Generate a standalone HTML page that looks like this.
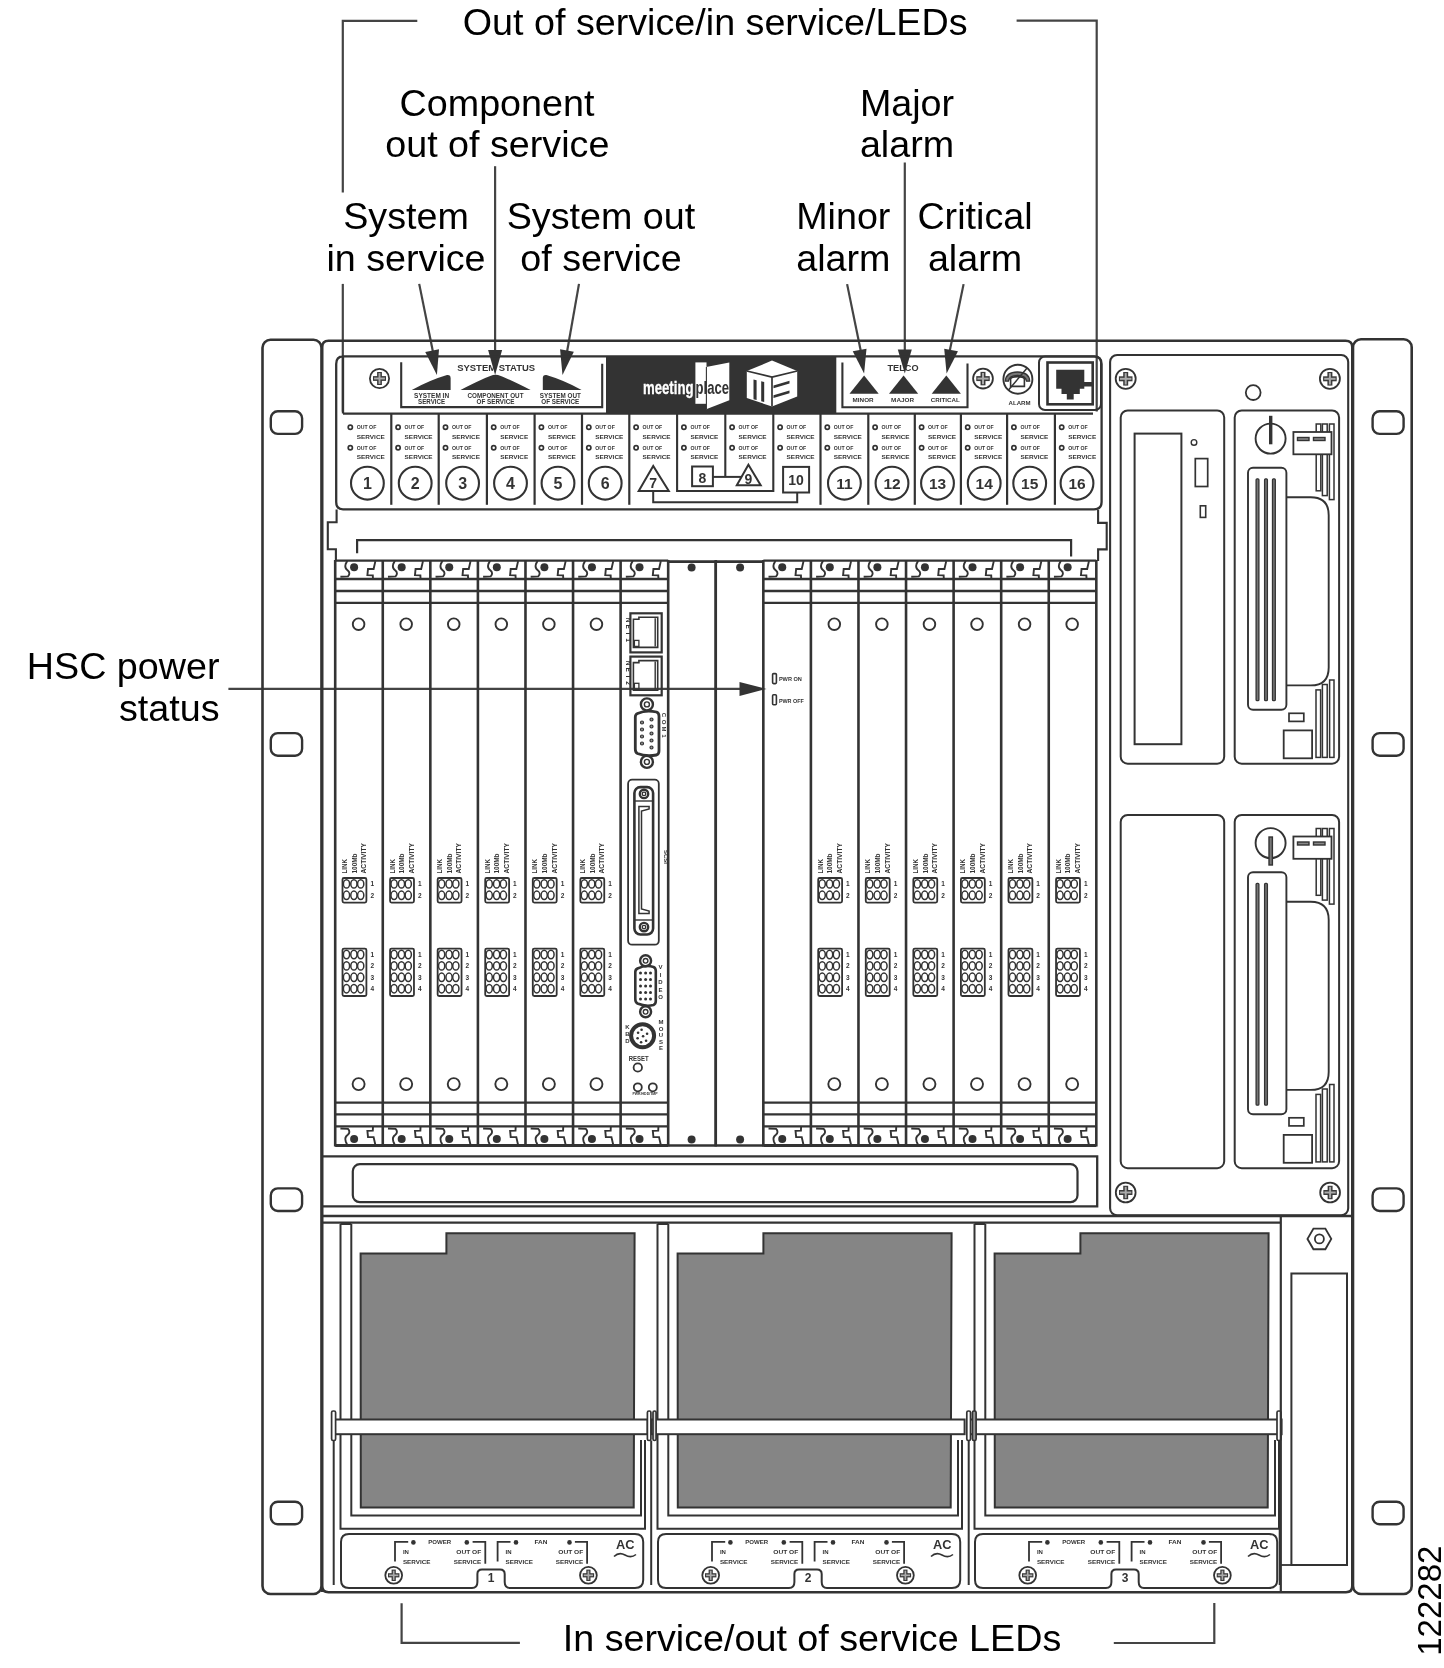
<!DOCTYPE html>
<html><head><meta charset="utf-8"><style>
html,body{margin:0;padding:0;background:#fff;}
svg{display:block;will-change:transform;}
text{font-family:"Liberation Sans",sans-serif;}
</style></head><body>
<svg width="1444" height="1668" viewBox="0 0 1444 1668">
<rect x="0" y="0" width="1444" height="1668" fill="#fff"/>
<text x="715.2" y="34.8" font-size="37.7" text-anchor="middle" font-weight="normal" fill="#000" >Out of service/in service/LEDs</text>
<text x="497" y="116.3" font-size="37.7" text-anchor="middle" font-weight="normal" fill="#000" >Component</text>
<text x="497.3" y="157" font-size="37.7" text-anchor="middle" font-weight="normal" fill="#000" >out of service</text>
<text x="907" y="116.1" font-size="37.7" text-anchor="middle" font-weight="normal" fill="#000" >Major</text>
<text x="907" y="156.6" font-size="37.7" text-anchor="middle" font-weight="normal" fill="#000" >alarm</text>
<text x="406" y="229" font-size="37.7" text-anchor="middle" font-weight="normal" fill="#000" >System</text>
<text x="406" y="270.8" font-size="37.7" text-anchor="middle" font-weight="normal" fill="#000" >in service</text>
<text x="601" y="229" font-size="37.7" text-anchor="middle" font-weight="normal" fill="#000" >System out</text>
<text x="601" y="270.8" font-size="37.7" text-anchor="middle" font-weight="normal" fill="#000" >of service</text>
<text x="843.3" y="229" font-size="37.7" text-anchor="middle" font-weight="normal" fill="#000" >Minor</text>
<text x="843.3" y="270.8" font-size="37.7" text-anchor="middle" font-weight="normal" fill="#000" >alarm</text>
<text x="975" y="229" font-size="37.7" text-anchor="middle" font-weight="normal" fill="#000" >Critical</text>
<text x="975" y="270.8" font-size="37.7" text-anchor="middle" font-weight="normal" fill="#000" >alarm</text>
<text x="219.5" y="679.4" font-size="37.7" text-anchor="end" font-weight="normal" fill="#000" >HSC power</text>
<text x="219.5" y="720.6" font-size="37.7" text-anchor="end" font-weight="normal" fill="#000" >status</text>
<text x="812" y="1651" font-size="37.7" text-anchor="middle" font-weight="normal" fill="#000" >In service/out of service LEDs</text>
<text x="1441" y="1600.7" font-size="33" text-anchor="middle" fill="#000" transform="rotate(-90 1441 1600.7)">122282</text>
<polyline points="417.3,20.8 342.8,20.8 342.8,192.5" fill="none" stroke="#444" stroke-width="2.2" stroke-linejoin="miter"/>
<line x1="342.8" y1="283.9" x2="342.8" y2="411.7" stroke="#444" stroke-width="2.2" stroke-linecap="butt"/>
<polyline points="1016.6,20.7 1096.7,20.7 1096.7,411.6" fill="none" stroke="#444" stroke-width="2.2" stroke-linejoin="miter"/>
<polyline points="401.6,1603.3 401.6,1642.8 519.9,1642.8" fill="none" stroke="#444" stroke-width="2.2" stroke-linejoin="miter"/>
<polyline points="1113.8,1643 1214.3,1643 1214.3,1603" fill="none" stroke="#444" stroke-width="2.2" stroke-linejoin="miter"/>
<line x1="419.2" y1="283.9" x2="433" y2="352" stroke="#444" stroke-width="2.2" stroke-linecap="butt"/>
<polygon points="436.9,375.1 425.27,351.89 439.01,349.22" fill="#333"/>
<line x1="495.1" y1="166.2" x2="495.1" y2="352" stroke="#444" stroke-width="2.2" stroke-linecap="butt"/>
<polygon points="495.1,375.1 488.1,350.1 502.1,350.1" fill="#333"/>
<line x1="579" y1="283.9" x2="567" y2="352" stroke="#444" stroke-width="2.2" stroke-linecap="butt"/>
<polygon points="562.5,375.1 560.06,349.25 573.84,351.75" fill="#333"/>
<line x1="847.1" y1="284.1" x2="861" y2="352" stroke="#444" stroke-width="2.2" stroke-linecap="butt"/>
<polygon points="864.1,373.6 852.74,351.33 866.5,348.72" fill="#333"/>
<line x1="904.8" y1="162.5" x2="904.8" y2="352" stroke="#444" stroke-width="2.2" stroke-linecap="butt"/>
<polygon points="904.8,373.6 897.8,349.6 911.8,349.6" fill="#333"/>
<line x1="963.6" y1="284.1" x2="949.5" y2="352" stroke="#444" stroke-width="2.2" stroke-linecap="butt"/>
<polygon points="946.6,373.6 944.2,348.72 957.96,351.33" fill="#333"/>
<line x1="228.4" y1="688.9" x2="745" y2="688.9" stroke="#444" stroke-width="2.2" stroke-linecap="butt"/>
<polygon points="766.5,688.9 739.5,681.9 739.5,695.9" fill="#333"/>
<rect x="262.5" y="339.8" width="59" height="1254.2" rx="8" fill="none" stroke="#333" stroke-width="2.6"/>
<rect x="1353" y="339.3" width="58.7" height="1254.7" rx="8" fill="none" stroke="#333" stroke-width="2.6"/>
<rect x="270.8" y="411.3" width="31.3" height="22.6" rx="7" fill="none" stroke="#333" stroke-width="2.4"/>
<rect x="1372.6" y="411.3" width="31" height="22.6" rx="7" fill="none" stroke="#333" stroke-width="2.4"/>
<rect x="270.8" y="733.1" width="31.3" height="22.6" rx="7" fill="none" stroke="#333" stroke-width="2.4"/>
<rect x="1372.6" y="733.1" width="31" height="22.6" rx="7" fill="none" stroke="#333" stroke-width="2.4"/>
<rect x="270.8" y="1188.4" width="31.3" height="22.6" rx="7" fill="none" stroke="#333" stroke-width="2.4"/>
<rect x="1372.6" y="1188.4" width="31" height="22.6" rx="7" fill="none" stroke="#333" stroke-width="2.4"/>
<rect x="270.8" y="1501.7" width="31.3" height="22.6" rx="7" fill="none" stroke="#333" stroke-width="2.4"/>
<rect x="1372.6" y="1501.7" width="31" height="22.6" rx="7" fill="none" stroke="#333" stroke-width="2.4"/>
<path d="M322.2,1592 L322.2,347 Q322.2,340.7 328.5,340.7 L1345.5,340.7 Q1352.3,340.7 1352.3,347 L1352.3,1586 Q1352.3,1592.2 1346,1592.2 L328.5,1592.2 Q322.2,1592.2 322.2,1586" fill="none" stroke="#333" stroke-width="2.6" stroke-linejoin="miter" stroke-linecap="butt"/>
<path d="M343,413.5 L343,356.3 L1094,356.3 Q1101.6,356.3 1101.6,364 L1101.6,502 Q1101.6,509.3 1094,509.3 L343,509.3 Q336.2,509.3 336.2,502 L336.2,364 Q336.2,356.3 343,356.3" fill="none" stroke="#333" stroke-width="2.3" stroke-linejoin="miter" stroke-linecap="butt"/>
<line x1="343" y1="413.6" x2="1093" y2="413.6" stroke="#333" stroke-width="2.3" stroke-linecap="butt"/>
<rect x="606" y="356.3" width="230.3" height="57.3" rx="0" fill="#333"/>
<rect x="1110.1" y="355" width="238.1" height="860.3" rx="7" fill="none" stroke="#333" stroke-width="2.1"/>
<polyline points="357.1,553.3 357.1,540.2 1071.1,540.2 1071.1,556.6" fill="none" stroke="#333" stroke-width="2.2" stroke-linejoin="miter"/>
<polyline points="336.6,509.5 336.6,522.2 327.8,522.2 327.8,549.2 335.9,549.2 335.9,561" fill="none" stroke="#333" stroke-width="2.1" stroke-linejoin="miter"/>
<polyline points="1098.1,509.8 1098.1,522.9 1106.7,522.9 1106.7,549.4 1098.1,549.4 1098.1,561.1" fill="none" stroke="#333" stroke-width="2.1" stroke-linejoin="miter"/>
<polyline points="322.2,1156.4 1097.2,1156.4 1097.2,1206.4 322.2,1206.4" fill="none" stroke="#333" stroke-width="2.3" stroke-linejoin="miter"/>
<rect x="352.8" y="1164.2" width="724.7" height="38" rx="7" fill="none" stroke="#333" stroke-width="2.2"/>
<line x1="322.2" y1="1216" x2="1352.3" y2="1216" stroke="#333" stroke-width="2.3" stroke-linecap="butt"/>
<line x1="322.2" y1="1222.6" x2="1280.8" y2="1222.6" stroke="#333" stroke-width="2.3" stroke-linecap="butt"/>
<circle cx="379.5" cy="378.5" r="9.6" fill="none" stroke="#333" stroke-width="1.8"/>
<line x1="372.97" y1="378.5" x2="386.03" y2="378.5" stroke="#3a3a3a" stroke-width="4.8" stroke-linecap="butt"/>
<line x1="379.5" y1="371.97" x2="379.5" y2="385.03" stroke="#3a3a3a" stroke-width="4.8" stroke-linecap="butt"/>
<line x1="374.07" y1="378.5" x2="384.93" y2="378.5" stroke="#aaa" stroke-width="1.92" stroke-linecap="butt"/>
<line x1="379.5" y1="373.07" x2="379.5" y2="383.93" stroke="#aaa" stroke-width="1.92" stroke-linecap="butt"/>
<polyline points="401.2,362.3 401.2,407.1 602.2,407.1 602.2,363.7" fill="none" stroke="#333" stroke-width="2.1" stroke-linejoin="miter"/>
<text x="496.2" y="370.8" font-size="9.5" text-anchor="middle" font-weight="bold" fill="#333" textLength="78" lengthAdjust="spacingAndGlyphs">SYSTEM STATUS</text>
<path d="M411.8,389.9 L450.6,389.9 L450.6,378 Q450.6,374.6 447,375 Q430,380 411.8,389.9 Z" fill="#333" stroke="#333" stroke-width="0" stroke-linejoin="miter" stroke-linecap="butt"/>
<path d="M460.5,389.9 L530.6,389.9 Q505,377 498,375 Q495.6,374.3 493,375 Q486,377 460.5,389.9 Z" fill="#333" stroke="#333" stroke-width="0" stroke-linejoin="miter" stroke-linecap="butt"/>
<path d="M581.6,389.9 L542.8,389.9 L542.8,378 Q542.8,374.6 546.4,375 Q563.4,380 581.6,389.9 Z" fill="#333" stroke="#333" stroke-width="0" stroke-linejoin="miter" stroke-linecap="butt"/>
<text x="431.6" y="397.8" font-size="6.4" text-anchor="middle" font-weight="bold" fill="#333" textLength="35" lengthAdjust="spacingAndGlyphs">SYSTEM IN</text>
<text x="431.6" y="403.8" font-size="6.4" text-anchor="middle" font-weight="bold" fill="#333" textLength="27" lengthAdjust="spacingAndGlyphs">SERVICE</text>
<text x="495.5" y="397.8" font-size="6.4" text-anchor="middle" font-weight="bold" fill="#333" textLength="56" lengthAdjust="spacingAndGlyphs">COMPONENT OUT</text>
<text x="495.5" y="403.8" font-size="6.4" text-anchor="middle" font-weight="bold" fill="#333" textLength="38" lengthAdjust="spacingAndGlyphs">OF SERVICE</text>
<text x="560.3" y="397.8" font-size="6.4" text-anchor="middle" font-weight="bold" fill="#333" textLength="41" lengthAdjust="spacingAndGlyphs">SYSTEM OUT</text>
<text x="560.3" y="403.8" font-size="6.4" text-anchor="middle" font-weight="bold" fill="#333" textLength="38" lengthAdjust="spacingAndGlyphs">OF SERVICE</text>
<polyline points="842.4,362.4 842.4,407.2 967.5,407.2 967.5,363.6" fill="none" stroke="#333" stroke-width="2.1" stroke-linejoin="miter"/>
<text x="903" y="370.8" font-size="9.5" text-anchor="middle" font-weight="bold" fill="#333" textLength="31" lengthAdjust="spacingAndGlyphs">TELCO</text>
<polygon points="864.1,375.4 849.5,393.7 878.7,393.7" fill="#333"/>
<text x="863.1" y="402" font-size="5.8" text-anchor="middle" font-weight="bold" fill="#333" textLength="21" lengthAdjust="spacingAndGlyphs">MINOR</text>
<polygon points="903.6,375.4 889,393.7 918.2,393.7" fill="#333"/>
<text x="902.6" y="402" font-size="5.8" text-anchor="middle" font-weight="bold" fill="#333" textLength="23" lengthAdjust="spacingAndGlyphs">MAJOR</text>
<polygon points="946.3,375.4 931.7,393.7 960.9,393.7" fill="#333"/>
<text x="945.3" y="402" font-size="5.8" text-anchor="middle" font-weight="bold" fill="#333" textLength="29" lengthAdjust="spacingAndGlyphs">CRITICAL</text>
<circle cx="983" cy="378.6" r="9.9" fill="none" stroke="#333" stroke-width="1.8"/>
<line x1="976.27" y1="378.6" x2="989.73" y2="378.6" stroke="#3a3a3a" stroke-width="4.95" stroke-linecap="butt"/>
<line x1="983" y1="371.87" x2="983" y2="385.33" stroke="#3a3a3a" stroke-width="4.95" stroke-linecap="butt"/>
<line x1="977.37" y1="378.6" x2="988.63" y2="378.6" stroke="#aaa" stroke-width="1.9800000000000002" stroke-linecap="butt"/>
<line x1="983" y1="372.97" x2="983" y2="384.23" stroke="#aaa" stroke-width="1.9800000000000002" stroke-linecap="butt"/>
<circle cx="1017.9" cy="379.2" r="14.5" fill="none" stroke="#333" stroke-width="1.9"/>
<path d="M1010.6,386.4 L1010.6,379 Q1011,376.8 1017.5,376.6 Q1024,376.8 1024.4,379 L1024.4,386.4 Z" fill="none" stroke="#333" stroke-width="1.6" stroke-linejoin="miter" stroke-linecap="butt"/>
<path d="M1005.3,381.2 Q1005.8,372.2 1017.5,372 Q1029.2,372.2 1029.7,381.2 L1026.6,381.2 Q1025.6,375.6 1017.5,375.5 Q1009.4,375.6 1008.4,381.2 Z" fill="#777" stroke="#333" stroke-width="1.3" stroke-linejoin="miter" stroke-linecap="butt"/>
<line x1="1008.5" y1="390" x2="1027.1" y2="368.1" stroke="#333" stroke-width="1.5" stroke-linecap="butt"/>
<text x="1019.6" y="404.5" font-size="5.8" text-anchor="middle" font-weight="bold" fill="#333" textLength="22" lengthAdjust="spacingAndGlyphs">ALARM</text>
<rect x="1039" y="356.5" width="62" height="53.5" rx="6" fill="none" stroke="#333" stroke-width="2.0"/>
<rect x="1047.5" y="362.5" width="45.2" height="41.8" rx="0" fill="none" stroke="#333" stroke-width="2.6"/>
<polygon points="1056.2,369.7 1084.3,369.7 1084.3,382 1092,382 1092,386.5 1084.3,386.5 1084.3,388.8 1079.8,388.8 1079.8,394 1073.7,394 1073.7,399.4 1066.8,399.4 1066.8,394 1061.5,394 1061.5,388.8 1056.2,388.8" fill="#333"/>
<line x1="391.3" y1="413.6" x2="391.3" y2="504.8" stroke="#333" stroke-width="2.2" stroke-linecap="butt"/>
<line x1="438.7" y1="413.6" x2="438.7" y2="504.8" stroke="#333" stroke-width="2.2" stroke-linecap="butt"/>
<line x1="486.9" y1="413.6" x2="486.9" y2="504.8" stroke="#333" stroke-width="2.2" stroke-linecap="butt"/>
<line x1="534.6" y1="413.6" x2="534.6" y2="504.8" stroke="#333" stroke-width="2.2" stroke-linecap="butt"/>
<line x1="582" y1="413.6" x2="582" y2="504.8" stroke="#333" stroke-width="2.2" stroke-linecap="butt"/>
<line x1="629.3" y1="413.6" x2="629.3" y2="504.8" stroke="#333" stroke-width="2.2" stroke-linecap="butt"/>
<line x1="820.5" y1="413.6" x2="820.5" y2="504.8" stroke="#333" stroke-width="2.2" stroke-linecap="butt"/>
<line x1="868.3" y1="413.6" x2="868.3" y2="504.8" stroke="#333" stroke-width="2.2" stroke-linecap="butt"/>
<line x1="914.8" y1="413.6" x2="914.8" y2="504.8" stroke="#333" stroke-width="2.2" stroke-linecap="butt"/>
<line x1="960.9" y1="413.6" x2="960.9" y2="504.8" stroke="#333" stroke-width="2.2" stroke-linecap="butt"/>
<line x1="1007.1" y1="413.6" x2="1007.1" y2="504.8" stroke="#333" stroke-width="2.2" stroke-linecap="butt"/>
<line x1="1054.9" y1="413.6" x2="1054.9" y2="504.8" stroke="#333" stroke-width="2.2" stroke-linecap="butt"/>
<polyline points="677.1,413.6 677.1,491 773.3,491 773.3,413.6" fill="none" stroke="#333" stroke-width="2.1" stroke-linejoin="miter"/>
<line x1="725.3" y1="413.6" x2="725.3" y2="476.9" stroke="#333" stroke-width="2.1" stroke-linecap="butt"/>
<circle cx="350.3" cy="427.2" r="2.1" fill="none" stroke="#333" stroke-width="1.7"/>
<text x="356.8" y="429.4" font-size="6" text-anchor="start" font-weight="bold" fill="#333" textLength="19.5" lengthAdjust="spacingAndGlyphs">OUT OF</text>
<text x="356.8" y="438.5" font-size="6" text-anchor="start" font-weight="bold" fill="#333" textLength="28" lengthAdjust="spacingAndGlyphs">SERVICE</text>
<circle cx="350.3" cy="447.8" r="2.1" fill="none" stroke="#333" stroke-width="1.7"/>
<text x="356.8" y="450" font-size="6" text-anchor="start" font-weight="bold" fill="#333" textLength="19.5" lengthAdjust="spacingAndGlyphs">OUT OF</text>
<text x="356.8" y="459.1" font-size="6" text-anchor="start" font-weight="bold" fill="#333" textLength="28" lengthAdjust="spacingAndGlyphs">SERVICE</text>
<circle cx="398.1" cy="427.2" r="2.1" fill="none" stroke="#333" stroke-width="1.7"/>
<text x="404.6" y="429.4" font-size="6" text-anchor="start" font-weight="bold" fill="#333" textLength="19.5" lengthAdjust="spacingAndGlyphs">OUT OF</text>
<text x="404.6" y="438.5" font-size="6" text-anchor="start" font-weight="bold" fill="#333" textLength="28" lengthAdjust="spacingAndGlyphs">SERVICE</text>
<circle cx="398.1" cy="447.8" r="2.1" fill="none" stroke="#333" stroke-width="1.7"/>
<text x="404.6" y="450" font-size="6" text-anchor="start" font-weight="bold" fill="#333" textLength="19.5" lengthAdjust="spacingAndGlyphs">OUT OF</text>
<text x="404.6" y="459.1" font-size="6" text-anchor="start" font-weight="bold" fill="#333" textLength="28" lengthAdjust="spacingAndGlyphs">SERVICE</text>
<circle cx="445.5" cy="427.2" r="2.1" fill="none" stroke="#333" stroke-width="1.7"/>
<text x="452" y="429.4" font-size="6" text-anchor="start" font-weight="bold" fill="#333" textLength="19.5" lengthAdjust="spacingAndGlyphs">OUT OF</text>
<text x="452" y="438.5" font-size="6" text-anchor="start" font-weight="bold" fill="#333" textLength="28" lengthAdjust="spacingAndGlyphs">SERVICE</text>
<circle cx="445.5" cy="447.8" r="2.1" fill="none" stroke="#333" stroke-width="1.7"/>
<text x="452" y="450" font-size="6" text-anchor="start" font-weight="bold" fill="#333" textLength="19.5" lengthAdjust="spacingAndGlyphs">OUT OF</text>
<text x="452" y="459.1" font-size="6" text-anchor="start" font-weight="bold" fill="#333" textLength="28" lengthAdjust="spacingAndGlyphs">SERVICE</text>
<circle cx="493.7" cy="427.2" r="2.1" fill="none" stroke="#333" stroke-width="1.7"/>
<text x="500.2" y="429.4" font-size="6" text-anchor="start" font-weight="bold" fill="#333" textLength="19.5" lengthAdjust="spacingAndGlyphs">OUT OF</text>
<text x="500.2" y="438.5" font-size="6" text-anchor="start" font-weight="bold" fill="#333" textLength="28" lengthAdjust="spacingAndGlyphs">SERVICE</text>
<circle cx="493.7" cy="447.8" r="2.1" fill="none" stroke="#333" stroke-width="1.7"/>
<text x="500.2" y="450" font-size="6" text-anchor="start" font-weight="bold" fill="#333" textLength="19.5" lengthAdjust="spacingAndGlyphs">OUT OF</text>
<text x="500.2" y="459.1" font-size="6" text-anchor="start" font-weight="bold" fill="#333" textLength="28" lengthAdjust="spacingAndGlyphs">SERVICE</text>
<circle cx="541.4" cy="427.2" r="2.1" fill="none" stroke="#333" stroke-width="1.7"/>
<text x="547.9" y="429.4" font-size="6" text-anchor="start" font-weight="bold" fill="#333" textLength="19.5" lengthAdjust="spacingAndGlyphs">OUT OF</text>
<text x="547.9" y="438.5" font-size="6" text-anchor="start" font-weight="bold" fill="#333" textLength="28" lengthAdjust="spacingAndGlyphs">SERVICE</text>
<circle cx="541.4" cy="447.8" r="2.1" fill="none" stroke="#333" stroke-width="1.7"/>
<text x="547.9" y="450" font-size="6" text-anchor="start" font-weight="bold" fill="#333" textLength="19.5" lengthAdjust="spacingAndGlyphs">OUT OF</text>
<text x="547.9" y="459.1" font-size="6" text-anchor="start" font-weight="bold" fill="#333" textLength="28" lengthAdjust="spacingAndGlyphs">SERVICE</text>
<circle cx="588.8" cy="427.2" r="2.1" fill="none" stroke="#333" stroke-width="1.7"/>
<text x="595.3" y="429.4" font-size="6" text-anchor="start" font-weight="bold" fill="#333" textLength="19.5" lengthAdjust="spacingAndGlyphs">OUT OF</text>
<text x="595.3" y="438.5" font-size="6" text-anchor="start" font-weight="bold" fill="#333" textLength="28" lengthAdjust="spacingAndGlyphs">SERVICE</text>
<circle cx="588.8" cy="447.8" r="2.1" fill="none" stroke="#333" stroke-width="1.7"/>
<text x="595.3" y="450" font-size="6" text-anchor="start" font-weight="bold" fill="#333" textLength="19.5" lengthAdjust="spacingAndGlyphs">OUT OF</text>
<text x="595.3" y="459.1" font-size="6" text-anchor="start" font-weight="bold" fill="#333" textLength="28" lengthAdjust="spacingAndGlyphs">SERVICE</text>
<circle cx="636.1" cy="427.2" r="2.1" fill="none" stroke="#333" stroke-width="1.7"/>
<text x="642.6" y="429.4" font-size="6" text-anchor="start" font-weight="bold" fill="#333" textLength="19.5" lengthAdjust="spacingAndGlyphs">OUT OF</text>
<text x="642.6" y="438.5" font-size="6" text-anchor="start" font-weight="bold" fill="#333" textLength="28" lengthAdjust="spacingAndGlyphs">SERVICE</text>
<circle cx="636.1" cy="447.8" r="2.1" fill="none" stroke="#333" stroke-width="1.7"/>
<text x="642.6" y="450" font-size="6" text-anchor="start" font-weight="bold" fill="#333" textLength="19.5" lengthAdjust="spacingAndGlyphs">OUT OF</text>
<text x="642.6" y="459.1" font-size="6" text-anchor="start" font-weight="bold" fill="#333" textLength="28" lengthAdjust="spacingAndGlyphs">SERVICE</text>
<circle cx="683.9" cy="427.2" r="2.1" fill="none" stroke="#333" stroke-width="1.7"/>
<text x="690.4" y="429.4" font-size="6" text-anchor="start" font-weight="bold" fill="#333" textLength="19.5" lengthAdjust="spacingAndGlyphs">OUT OF</text>
<text x="690.4" y="438.5" font-size="6" text-anchor="start" font-weight="bold" fill="#333" textLength="28" lengthAdjust="spacingAndGlyphs">SERVICE</text>
<circle cx="683.9" cy="447.8" r="2.1" fill="none" stroke="#333" stroke-width="1.7"/>
<text x="690.4" y="450" font-size="6" text-anchor="start" font-weight="bold" fill="#333" textLength="19.5" lengthAdjust="spacingAndGlyphs">OUT OF</text>
<text x="690.4" y="459.1" font-size="6" text-anchor="start" font-weight="bold" fill="#333" textLength="28" lengthAdjust="spacingAndGlyphs">SERVICE</text>
<circle cx="732.1" cy="427.2" r="2.1" fill="none" stroke="#333" stroke-width="1.7"/>
<text x="738.6" y="429.4" font-size="6" text-anchor="start" font-weight="bold" fill="#333" textLength="19.5" lengthAdjust="spacingAndGlyphs">OUT OF</text>
<text x="738.6" y="438.5" font-size="6" text-anchor="start" font-weight="bold" fill="#333" textLength="28" lengthAdjust="spacingAndGlyphs">SERVICE</text>
<circle cx="732.1" cy="447.8" r="2.1" fill="none" stroke="#333" stroke-width="1.7"/>
<text x="738.6" y="450" font-size="6" text-anchor="start" font-weight="bold" fill="#333" textLength="19.5" lengthAdjust="spacingAndGlyphs">OUT OF</text>
<text x="738.6" y="459.1" font-size="6" text-anchor="start" font-weight="bold" fill="#333" textLength="28" lengthAdjust="spacingAndGlyphs">SERVICE</text>
<circle cx="780.1" cy="427.2" r="2.1" fill="none" stroke="#333" stroke-width="1.7"/>
<text x="786.6" y="429.4" font-size="6" text-anchor="start" font-weight="bold" fill="#333" textLength="19.5" lengthAdjust="spacingAndGlyphs">OUT OF</text>
<text x="786.6" y="438.5" font-size="6" text-anchor="start" font-weight="bold" fill="#333" textLength="28" lengthAdjust="spacingAndGlyphs">SERVICE</text>
<circle cx="780.1" cy="447.8" r="2.1" fill="none" stroke="#333" stroke-width="1.7"/>
<text x="786.6" y="450" font-size="6" text-anchor="start" font-weight="bold" fill="#333" textLength="19.5" lengthAdjust="spacingAndGlyphs">OUT OF</text>
<text x="786.6" y="459.1" font-size="6" text-anchor="start" font-weight="bold" fill="#333" textLength="28" lengthAdjust="spacingAndGlyphs">SERVICE</text>
<circle cx="827.3" cy="427.2" r="2.1" fill="none" stroke="#333" stroke-width="1.7"/>
<text x="833.8" y="429.4" font-size="6" text-anchor="start" font-weight="bold" fill="#333" textLength="19.5" lengthAdjust="spacingAndGlyphs">OUT OF</text>
<text x="833.8" y="438.5" font-size="6" text-anchor="start" font-weight="bold" fill="#333" textLength="28" lengthAdjust="spacingAndGlyphs">SERVICE</text>
<circle cx="827.3" cy="447.8" r="2.1" fill="none" stroke="#333" stroke-width="1.7"/>
<text x="833.8" y="450" font-size="6" text-anchor="start" font-weight="bold" fill="#333" textLength="19.5" lengthAdjust="spacingAndGlyphs">OUT OF</text>
<text x="833.8" y="459.1" font-size="6" text-anchor="start" font-weight="bold" fill="#333" textLength="28" lengthAdjust="spacingAndGlyphs">SERVICE</text>
<circle cx="875.1" cy="427.2" r="2.1" fill="none" stroke="#333" stroke-width="1.7"/>
<text x="881.6" y="429.4" font-size="6" text-anchor="start" font-weight="bold" fill="#333" textLength="19.5" lengthAdjust="spacingAndGlyphs">OUT OF</text>
<text x="881.6" y="438.5" font-size="6" text-anchor="start" font-weight="bold" fill="#333" textLength="28" lengthAdjust="spacingAndGlyphs">SERVICE</text>
<circle cx="875.1" cy="447.8" r="2.1" fill="none" stroke="#333" stroke-width="1.7"/>
<text x="881.6" y="450" font-size="6" text-anchor="start" font-weight="bold" fill="#333" textLength="19.5" lengthAdjust="spacingAndGlyphs">OUT OF</text>
<text x="881.6" y="459.1" font-size="6" text-anchor="start" font-weight="bold" fill="#333" textLength="28" lengthAdjust="spacingAndGlyphs">SERVICE</text>
<circle cx="921.6" cy="427.2" r="2.1" fill="none" stroke="#333" stroke-width="1.7"/>
<text x="928.1" y="429.4" font-size="6" text-anchor="start" font-weight="bold" fill="#333" textLength="19.5" lengthAdjust="spacingAndGlyphs">OUT OF</text>
<text x="928.1" y="438.5" font-size="6" text-anchor="start" font-weight="bold" fill="#333" textLength="28" lengthAdjust="spacingAndGlyphs">SERVICE</text>
<circle cx="921.6" cy="447.8" r="2.1" fill="none" stroke="#333" stroke-width="1.7"/>
<text x="928.1" y="450" font-size="6" text-anchor="start" font-weight="bold" fill="#333" textLength="19.5" lengthAdjust="spacingAndGlyphs">OUT OF</text>
<text x="928.1" y="459.1" font-size="6" text-anchor="start" font-weight="bold" fill="#333" textLength="28" lengthAdjust="spacingAndGlyphs">SERVICE</text>
<circle cx="967.7" cy="427.2" r="2.1" fill="none" stroke="#333" stroke-width="1.7"/>
<text x="974.2" y="429.4" font-size="6" text-anchor="start" font-weight="bold" fill="#333" textLength="19.5" lengthAdjust="spacingAndGlyphs">OUT OF</text>
<text x="974.2" y="438.5" font-size="6" text-anchor="start" font-weight="bold" fill="#333" textLength="28" lengthAdjust="spacingAndGlyphs">SERVICE</text>
<circle cx="967.7" cy="447.8" r="2.1" fill="none" stroke="#333" stroke-width="1.7"/>
<text x="974.2" y="450" font-size="6" text-anchor="start" font-weight="bold" fill="#333" textLength="19.5" lengthAdjust="spacingAndGlyphs">OUT OF</text>
<text x="974.2" y="459.1" font-size="6" text-anchor="start" font-weight="bold" fill="#333" textLength="28" lengthAdjust="spacingAndGlyphs">SERVICE</text>
<circle cx="1013.9" cy="427.2" r="2.1" fill="none" stroke="#333" stroke-width="1.7"/>
<text x="1020.4" y="429.4" font-size="6" text-anchor="start" font-weight="bold" fill="#333" textLength="19.5" lengthAdjust="spacingAndGlyphs">OUT OF</text>
<text x="1020.4" y="438.5" font-size="6" text-anchor="start" font-weight="bold" fill="#333" textLength="28" lengthAdjust="spacingAndGlyphs">SERVICE</text>
<circle cx="1013.9" cy="447.8" r="2.1" fill="none" stroke="#333" stroke-width="1.7"/>
<text x="1020.4" y="450" font-size="6" text-anchor="start" font-weight="bold" fill="#333" textLength="19.5" lengthAdjust="spacingAndGlyphs">OUT OF</text>
<text x="1020.4" y="459.1" font-size="6" text-anchor="start" font-weight="bold" fill="#333" textLength="28" lengthAdjust="spacingAndGlyphs">SERVICE</text>
<circle cx="1061.7" cy="427.2" r="2.1" fill="none" stroke="#333" stroke-width="1.7"/>
<text x="1068.2" y="429.4" font-size="6" text-anchor="start" font-weight="bold" fill="#333" textLength="19.5" lengthAdjust="spacingAndGlyphs">OUT OF</text>
<text x="1068.2" y="438.5" font-size="6" text-anchor="start" font-weight="bold" fill="#333" textLength="28" lengthAdjust="spacingAndGlyphs">SERVICE</text>
<circle cx="1061.7" cy="447.8" r="2.1" fill="none" stroke="#333" stroke-width="1.7"/>
<text x="1068.2" y="450" font-size="6" text-anchor="start" font-weight="bold" fill="#333" textLength="19.5" lengthAdjust="spacingAndGlyphs">OUT OF</text>
<text x="1068.2" y="459.1" font-size="6" text-anchor="start" font-weight="bold" fill="#333" textLength="28" lengthAdjust="spacingAndGlyphs">SERVICE</text>
<circle cx="367.4" cy="483.2" r="16.4" fill="none" stroke="#333" stroke-width="2.1"/>
<text x="367.4" y="489.3" font-size="16" text-anchor="middle" font-weight="bold" fill="#333" >1</text>
<circle cx="415.2" cy="483.2" r="16.4" fill="none" stroke="#333" stroke-width="2.1"/>
<text x="415.2" y="489.3" font-size="16" text-anchor="middle" font-weight="bold" fill="#333" >2</text>
<circle cx="462.6" cy="483.2" r="16.4" fill="none" stroke="#333" stroke-width="2.1"/>
<text x="462.6" y="489.3" font-size="16" text-anchor="middle" font-weight="bold" fill="#333" >3</text>
<circle cx="510.5" cy="483.2" r="16.4" fill="none" stroke="#333" stroke-width="2.1"/>
<text x="510.5" y="489.3" font-size="16" text-anchor="middle" font-weight="bold" fill="#333" >4</text>
<circle cx="558" cy="483.2" r="16.4" fill="none" stroke="#333" stroke-width="2.1"/>
<text x="558" y="489.3" font-size="16" text-anchor="middle" font-weight="bold" fill="#333" >5</text>
<circle cx="605.2" cy="483.2" r="16.4" fill="none" stroke="#333" stroke-width="2.1"/>
<text x="605.2" y="489.3" font-size="16" text-anchor="middle" font-weight="bold" fill="#333" >6</text>
<circle cx="844.4" cy="483.2" r="16.4" fill="none" stroke="#333" stroke-width="2.1"/>
<text x="844.4" y="489.3" font-size="15.5" text-anchor="middle" font-weight="bold" fill="#333" >11</text>
<circle cx="892" cy="483.2" r="16.4" fill="none" stroke="#333" stroke-width="2.1"/>
<text x="892" y="489.3" font-size="15.5" text-anchor="middle" font-weight="bold" fill="#333" >12</text>
<circle cx="937.5" cy="483.2" r="16.4" fill="none" stroke="#333" stroke-width="2.1"/>
<text x="937.5" y="489.3" font-size="15.5" text-anchor="middle" font-weight="bold" fill="#333" >13</text>
<circle cx="984.2" cy="483.2" r="16.4" fill="none" stroke="#333" stroke-width="2.1"/>
<text x="984.2" y="489.3" font-size="15.5" text-anchor="middle" font-weight="bold" fill="#333" >14</text>
<circle cx="1029.7" cy="483.2" r="16.4" fill="none" stroke="#333" stroke-width="2.1"/>
<text x="1029.7" y="489.3" font-size="15.5" text-anchor="middle" font-weight="bold" fill="#333" >15</text>
<circle cx="1077" cy="483.2" r="16.4" fill="none" stroke="#333" stroke-width="2.1"/>
<text x="1077" y="489.3" font-size="15.5" text-anchor="middle" font-weight="bold" fill="#333" >16</text>
<polygon points="653.2,466 638.7,491 668.8,491" fill="none" stroke="#333" stroke-width="2.0" stroke-linejoin="miter"/>
<text x="653.2" y="488" font-size="14" text-anchor="middle" font-weight="bold" fill="#333" >7</text>
<rect x="692.1" y="466.5" width="20.8" height="19.7" rx="0" fill="none" stroke="#333" stroke-width="2.0"/>
<text x="702.5" y="482.5" font-size="14" text-anchor="middle" font-weight="bold" fill="#333" >8</text>
<polygon points="748.4,464.8 736.8,485.2 760.7,485.2" fill="none" stroke="#333" stroke-width="2.0" stroke-linejoin="miter"/>
<text x="748.4" y="483.5" font-size="14" text-anchor="middle" font-weight="bold" fill="#333" >9</text>
<line x1="712.9" y1="476.9" x2="741.5" y2="476.9" stroke="#333" stroke-width="2.0" stroke-linecap="butt"/>
<rect x="783.1" y="466.9" width="26" height="25.6" rx="0" fill="none" stroke="#333" stroke-width="2.0"/>
<text x="796" y="484.5" font-size="14" text-anchor="middle" font-weight="bold" fill="#333" >10</text>
<polyline points="653.2,491 653.2,502.2 797.2,502.2 797.2,492.5" fill="none" stroke="#333" stroke-width="2.0" stroke-linejoin="miter"/>
<path d="M340.4,576.8 L348,576.4 C350,574.4 349.7,572 347.8,570.5 C345.7,569 344.8,566.5 345.7,564 L347.3,560.9" fill="none" stroke="#333" stroke-width="1.9" stroke-linejoin="miter" stroke-linecap="butt"/>
<path d="M375.4,561.1 L373.6,569 L368,569 L367.4,575.2 L372.8,575.4 L373,579" fill="none" stroke="#333" stroke-width="1.9" stroke-linejoin="miter" stroke-linecap="butt"/>
<circle cx="354.1" cy="567.2" r="4" fill="#333"/>
<path d="M340.4,1128.5 L348,1128.9 C350,1130.9 349.7,1133.3 347.8,1134.8 C345.7,1136.3 344.8,1138.8 345.7,1141.3 L347.3,1145.2" fill="none" stroke="#333" stroke-width="1.9" stroke-linejoin="miter" stroke-linecap="butt"/>
<path d="M375.4,1145 L373.6,1137.1 L368,1137.1 L367.4,1130.9 L372.8,1130.7 L373,1126.3" fill="none" stroke="#333" stroke-width="1.9" stroke-linejoin="miter" stroke-linecap="butt"/>
<circle cx="354.1" cy="1138.9" r="4" fill="#333"/>
<path d="M387.97,576.8 L395.57,576.4 C397.57,574.4 397.27,572 395.37,570.5 C393.27,569 392.37,566.5 393.27,564 L394.87,560.9" fill="none" stroke="#333" stroke-width="1.9" stroke-linejoin="miter" stroke-linecap="butt"/>
<path d="M422.97,561.1 L421.17,569 L415.57,569 L414.97,575.2 L420.37,575.4 L420.57,579" fill="none" stroke="#333" stroke-width="1.9" stroke-linejoin="miter" stroke-linecap="butt"/>
<circle cx="401.67" cy="567.2" r="4" fill="#333"/>
<path d="M387.97,1128.5 L395.57,1128.9 C397.57,1130.9 397.27,1133.3 395.37,1134.8 C393.27,1136.3 392.37,1138.8 393.27,1141.3 L394.87,1145.2" fill="none" stroke="#333" stroke-width="1.9" stroke-linejoin="miter" stroke-linecap="butt"/>
<path d="M422.97,1145 L421.17,1137.1 L415.57,1137.1 L414.97,1130.9 L420.37,1130.7 L420.57,1126.3" fill="none" stroke="#333" stroke-width="1.9" stroke-linejoin="miter" stroke-linecap="butt"/>
<circle cx="401.67" cy="1138.9" r="4" fill="#333"/>
<path d="M435.54,576.8 L443.14,576.4 C445.14,574.4 444.84,572 442.94,570.5 C440.84,569 439.94,566.5 440.84,564 L442.44,560.9" fill="none" stroke="#333" stroke-width="1.9" stroke-linejoin="miter" stroke-linecap="butt"/>
<path d="M470.54,561.1 L468.74,569 L463.14,569 L462.54,575.2 L467.94,575.4 L468.14,579" fill="none" stroke="#333" stroke-width="1.9" stroke-linejoin="miter" stroke-linecap="butt"/>
<circle cx="449.24" cy="567.2" r="4" fill="#333"/>
<path d="M435.54,1128.5 L443.14,1128.9 C445.14,1130.9 444.84,1133.3 442.94,1134.8 C440.84,1136.3 439.94,1138.8 440.84,1141.3 L442.44,1145.2" fill="none" stroke="#333" stroke-width="1.9" stroke-linejoin="miter" stroke-linecap="butt"/>
<path d="M470.54,1145 L468.74,1137.1 L463.14,1137.1 L462.54,1130.9 L467.94,1130.7 L468.14,1126.3" fill="none" stroke="#333" stroke-width="1.9" stroke-linejoin="miter" stroke-linecap="butt"/>
<circle cx="449.24" cy="1138.9" r="4" fill="#333"/>
<path d="M483.11,576.8 L490.71,576.4 C492.71,574.4 492.41,572 490.51,570.5 C488.41,569 487.51,566.5 488.41,564 L490.01,560.9" fill="none" stroke="#333" stroke-width="1.9" stroke-linejoin="miter" stroke-linecap="butt"/>
<path d="M518.11,561.1 L516.31,569 L510.71,569 L510.11,575.2 L515.51,575.4 L515.71,579" fill="none" stroke="#333" stroke-width="1.9" stroke-linejoin="miter" stroke-linecap="butt"/>
<circle cx="496.81" cy="567.2" r="4" fill="#333"/>
<path d="M483.11,1128.5 L490.71,1128.9 C492.71,1130.9 492.41,1133.3 490.51,1134.8 C488.41,1136.3 487.51,1138.8 488.41,1141.3 L490.01,1145.2" fill="none" stroke="#333" stroke-width="1.9" stroke-linejoin="miter" stroke-linecap="butt"/>
<path d="M518.11,1145 L516.31,1137.1 L510.71,1137.1 L510.11,1130.9 L515.51,1130.7 L515.71,1126.3" fill="none" stroke="#333" stroke-width="1.9" stroke-linejoin="miter" stroke-linecap="butt"/>
<circle cx="496.81" cy="1138.9" r="4" fill="#333"/>
<path d="M530.68,576.8 L538.28,576.4 C540.28,574.4 539.98,572 538.08,570.5 C535.98,569 535.08,566.5 535.98,564 L537.58,560.9" fill="none" stroke="#333" stroke-width="1.9" stroke-linejoin="miter" stroke-linecap="butt"/>
<path d="M565.68,561.1 L563.88,569 L558.28,569 L557.68,575.2 L563.08,575.4 L563.28,579" fill="none" stroke="#333" stroke-width="1.9" stroke-linejoin="miter" stroke-linecap="butt"/>
<circle cx="544.38" cy="567.2" r="4" fill="#333"/>
<path d="M530.68,1128.5 L538.28,1128.9 C540.28,1130.9 539.98,1133.3 538.08,1134.8 C535.98,1136.3 535.08,1138.8 535.98,1141.3 L537.58,1145.2" fill="none" stroke="#333" stroke-width="1.9" stroke-linejoin="miter" stroke-linecap="butt"/>
<path d="M565.68,1145 L563.88,1137.1 L558.28,1137.1 L557.68,1130.9 L563.08,1130.7 L563.28,1126.3" fill="none" stroke="#333" stroke-width="1.9" stroke-linejoin="miter" stroke-linecap="butt"/>
<circle cx="544.38" cy="1138.9" r="4" fill="#333"/>
<path d="M578.25,576.8 L585.85,576.4 C587.85,574.4 587.55,572 585.65,570.5 C583.55,569 582.65,566.5 583.55,564 L585.15,560.9" fill="none" stroke="#333" stroke-width="1.9" stroke-linejoin="miter" stroke-linecap="butt"/>
<path d="M613.25,561.1 L611.45,569 L605.85,569 L605.25,575.2 L610.65,575.4 L610.85,579" fill="none" stroke="#333" stroke-width="1.9" stroke-linejoin="miter" stroke-linecap="butt"/>
<circle cx="591.95" cy="567.2" r="4" fill="#333"/>
<path d="M578.25,1128.5 L585.85,1128.9 C587.85,1130.9 587.55,1133.3 585.65,1134.8 C583.55,1136.3 582.65,1138.8 583.55,1141.3 L585.15,1145.2" fill="none" stroke="#333" stroke-width="1.9" stroke-linejoin="miter" stroke-linecap="butt"/>
<path d="M613.25,1145 L611.45,1137.1 L605.85,1137.1 L605.25,1130.9 L610.65,1130.7 L610.85,1126.3" fill="none" stroke="#333" stroke-width="1.9" stroke-linejoin="miter" stroke-linecap="butt"/>
<circle cx="591.95" cy="1138.9" r="4" fill="#333"/>
<path d="M625.82,576.8 L633.42,576.4 C635.42,574.4 635.12,572 633.22,570.5 C631.12,569 630.22,566.5 631.12,564 L632.72,560.9" fill="none" stroke="#333" stroke-width="1.9" stroke-linejoin="miter" stroke-linecap="butt"/>
<path d="M660.82,561.1 L659.02,569 L653.42,569 L652.82,575.2 L658.22,575.4 L658.42,579" fill="none" stroke="#333" stroke-width="1.9" stroke-linejoin="miter" stroke-linecap="butt"/>
<circle cx="639.52" cy="567.2" r="4" fill="#333"/>
<path d="M625.82,1128.5 L633.42,1128.9 C635.42,1130.9 635.12,1133.3 633.22,1134.8 C631.12,1136.3 630.22,1138.8 631.12,1141.3 L632.72,1145.2" fill="none" stroke="#333" stroke-width="1.9" stroke-linejoin="miter" stroke-linecap="butt"/>
<path d="M660.82,1145 L659.02,1137.1 L653.42,1137.1 L652.82,1130.9 L658.22,1130.7 L658.42,1126.3" fill="none" stroke="#333" stroke-width="1.9" stroke-linejoin="miter" stroke-linecap="butt"/>
<circle cx="639.52" cy="1138.9" r="4" fill="#333"/>
<path d="M768.53,576.8 L776.13,576.4 C778.13,574.4 777.83,572 775.93,570.5 C773.83,569 772.93,566.5 773.83,564 L775.43,560.9" fill="none" stroke="#333" stroke-width="1.9" stroke-linejoin="miter" stroke-linecap="butt"/>
<path d="M803.53,561.1 L801.73,569 L796.13,569 L795.53,575.2 L800.93,575.4 L801.13,579" fill="none" stroke="#333" stroke-width="1.9" stroke-linejoin="miter" stroke-linecap="butt"/>
<circle cx="782.23" cy="567.2" r="4" fill="#333"/>
<path d="M768.53,1128.5 L776.13,1128.9 C778.13,1130.9 777.83,1133.3 775.93,1134.8 C773.83,1136.3 772.93,1138.8 773.83,1141.3 L775.43,1145.2" fill="none" stroke="#333" stroke-width="1.9" stroke-linejoin="miter" stroke-linecap="butt"/>
<path d="M803.53,1145 L801.73,1137.1 L796.13,1137.1 L795.53,1130.9 L800.93,1130.7 L801.13,1126.3" fill="none" stroke="#333" stroke-width="1.9" stroke-linejoin="miter" stroke-linecap="butt"/>
<circle cx="782.23" cy="1138.9" r="4" fill="#333"/>
<path d="M816.1,576.8 L823.7,576.4 C825.7,574.4 825.4,572 823.5,570.5 C821.4,569 820.5,566.5 821.4,564 L823,560.9" fill="none" stroke="#333" stroke-width="1.9" stroke-linejoin="miter" stroke-linecap="butt"/>
<path d="M851.1,561.1 L849.3,569 L843.7,569 L843.1,575.2 L848.5,575.4 L848.7,579" fill="none" stroke="#333" stroke-width="1.9" stroke-linejoin="miter" stroke-linecap="butt"/>
<circle cx="829.8" cy="567.2" r="4" fill="#333"/>
<path d="M816.1,1128.5 L823.7,1128.9 C825.7,1130.9 825.4,1133.3 823.5,1134.8 C821.4,1136.3 820.5,1138.8 821.4,1141.3 L823,1145.2" fill="none" stroke="#333" stroke-width="1.9" stroke-linejoin="miter" stroke-linecap="butt"/>
<path d="M851.1,1145 L849.3,1137.1 L843.7,1137.1 L843.1,1130.9 L848.5,1130.7 L848.7,1126.3" fill="none" stroke="#333" stroke-width="1.9" stroke-linejoin="miter" stroke-linecap="butt"/>
<circle cx="829.8" cy="1138.9" r="4" fill="#333"/>
<path d="M863.67,576.8 L871.27,576.4 C873.27,574.4 872.97,572 871.07,570.5 C868.97,569 868.07,566.5 868.97,564 L870.57,560.9" fill="none" stroke="#333" stroke-width="1.9" stroke-linejoin="miter" stroke-linecap="butt"/>
<path d="M898.67,561.1 L896.87,569 L891.27,569 L890.67,575.2 L896.07,575.4 L896.27,579" fill="none" stroke="#333" stroke-width="1.9" stroke-linejoin="miter" stroke-linecap="butt"/>
<circle cx="877.37" cy="567.2" r="4" fill="#333"/>
<path d="M863.67,1128.5 L871.27,1128.9 C873.27,1130.9 872.97,1133.3 871.07,1134.8 C868.97,1136.3 868.07,1138.8 868.97,1141.3 L870.57,1145.2" fill="none" stroke="#333" stroke-width="1.9" stroke-linejoin="miter" stroke-linecap="butt"/>
<path d="M898.67,1145 L896.87,1137.1 L891.27,1137.1 L890.67,1130.9 L896.07,1130.7 L896.27,1126.3" fill="none" stroke="#333" stroke-width="1.9" stroke-linejoin="miter" stroke-linecap="butt"/>
<circle cx="877.37" cy="1138.9" r="4" fill="#333"/>
<path d="M911.24,576.8 L918.84,576.4 C920.84,574.4 920.54,572 918.64,570.5 C916.54,569 915.64,566.5 916.54,564 L918.14,560.9" fill="none" stroke="#333" stroke-width="1.9" stroke-linejoin="miter" stroke-linecap="butt"/>
<path d="M946.24,561.1 L944.44,569 L938.84,569 L938.24,575.2 L943.64,575.4 L943.84,579" fill="none" stroke="#333" stroke-width="1.9" stroke-linejoin="miter" stroke-linecap="butt"/>
<circle cx="924.94" cy="567.2" r="4" fill="#333"/>
<path d="M911.24,1128.5 L918.84,1128.9 C920.84,1130.9 920.54,1133.3 918.64,1134.8 C916.54,1136.3 915.64,1138.8 916.54,1141.3 L918.14,1145.2" fill="none" stroke="#333" stroke-width="1.9" stroke-linejoin="miter" stroke-linecap="butt"/>
<path d="M946.24,1145 L944.44,1137.1 L938.84,1137.1 L938.24,1130.9 L943.64,1130.7 L943.84,1126.3" fill="none" stroke="#333" stroke-width="1.9" stroke-linejoin="miter" stroke-linecap="butt"/>
<circle cx="924.94" cy="1138.9" r="4" fill="#333"/>
<path d="M958.81,576.8 L966.41,576.4 C968.41,574.4 968.11,572 966.21,570.5 C964.11,569 963.21,566.5 964.11,564 L965.71,560.9" fill="none" stroke="#333" stroke-width="1.9" stroke-linejoin="miter" stroke-linecap="butt"/>
<path d="M993.81,561.1 L992.01,569 L986.41,569 L985.81,575.2 L991.21,575.4 L991.41,579" fill="none" stroke="#333" stroke-width="1.9" stroke-linejoin="miter" stroke-linecap="butt"/>
<circle cx="972.51" cy="567.2" r="4" fill="#333"/>
<path d="M958.81,1128.5 L966.41,1128.9 C968.41,1130.9 968.11,1133.3 966.21,1134.8 C964.11,1136.3 963.21,1138.8 964.11,1141.3 L965.71,1145.2" fill="none" stroke="#333" stroke-width="1.9" stroke-linejoin="miter" stroke-linecap="butt"/>
<path d="M993.81,1145 L992.01,1137.1 L986.41,1137.1 L985.81,1130.9 L991.21,1130.7 L991.41,1126.3" fill="none" stroke="#333" stroke-width="1.9" stroke-linejoin="miter" stroke-linecap="butt"/>
<circle cx="972.51" cy="1138.9" r="4" fill="#333"/>
<path d="M1006.38,576.8 L1013.98,576.4 C1015.98,574.4 1015.68,572 1013.78,570.5 C1011.68,569 1010.78,566.5 1011.68,564 L1013.28,560.9" fill="none" stroke="#333" stroke-width="1.9" stroke-linejoin="miter" stroke-linecap="butt"/>
<path d="M1041.38,561.1 L1039.58,569 L1033.98,569 L1033.38,575.2 L1038.78,575.4 L1038.98,579" fill="none" stroke="#333" stroke-width="1.9" stroke-linejoin="miter" stroke-linecap="butt"/>
<circle cx="1020.08" cy="567.2" r="4" fill="#333"/>
<path d="M1006.38,1128.5 L1013.98,1128.9 C1015.98,1130.9 1015.68,1133.3 1013.78,1134.8 C1011.68,1136.3 1010.78,1138.8 1011.68,1141.3 L1013.28,1145.2" fill="none" stroke="#333" stroke-width="1.9" stroke-linejoin="miter" stroke-linecap="butt"/>
<path d="M1041.38,1145 L1039.58,1137.1 L1033.98,1137.1 L1033.38,1130.9 L1038.78,1130.7 L1038.98,1126.3" fill="none" stroke="#333" stroke-width="1.9" stroke-linejoin="miter" stroke-linecap="butt"/>
<circle cx="1020.08" cy="1138.9" r="4" fill="#333"/>
<path d="M1053.95,576.8 L1061.55,576.4 C1063.55,574.4 1063.25,572 1061.35,570.5 C1059.25,569 1058.35,566.5 1059.25,564 L1060.85,560.9" fill="none" stroke="#333" stroke-width="1.9" stroke-linejoin="miter" stroke-linecap="butt"/>
<path d="M1088.95,561.1 L1087.15,569 L1081.55,569 L1080.95,575.2 L1086.35,575.4 L1086.55,579" fill="none" stroke="#333" stroke-width="1.9" stroke-linejoin="miter" stroke-linecap="butt"/>
<circle cx="1067.65" cy="567.2" r="4" fill="#333"/>
<path d="M1053.95,1128.5 L1061.55,1128.9 C1063.55,1130.9 1063.25,1133.3 1061.35,1134.8 C1059.25,1136.3 1058.35,1138.8 1059.25,1141.3 L1060.85,1145.2" fill="none" stroke="#333" stroke-width="1.9" stroke-linejoin="miter" stroke-linecap="butt"/>
<path d="M1088.95,1145 L1087.15,1137.1 L1081.55,1137.1 L1080.95,1130.9 L1086.35,1130.7 L1086.55,1126.3" fill="none" stroke="#333" stroke-width="1.9" stroke-linejoin="miter" stroke-linecap="butt"/>
<circle cx="1067.65" cy="1138.9" r="4" fill="#333"/>
<line x1="335.2" y1="560.6" x2="668.19" y2="560.6" stroke="#333" stroke-width="2.3" stroke-linecap="butt"/>
<line x1="335.2" y1="579" x2="668.19" y2="579" stroke="#333" stroke-width="2.3" stroke-linecap="butt"/>
<line x1="335.2" y1="591" x2="668.19" y2="591" stroke="#333" stroke-width="2.3" stroke-linecap="butt"/>
<line x1="335.2" y1="602.9" x2="668.19" y2="602.9" stroke="#333" stroke-width="2.3" stroke-linecap="butt"/>
<line x1="335.2" y1="1102.6" x2="668.19" y2="1102.6" stroke="#333" stroke-width="2.3" stroke-linecap="butt"/>
<line x1="335.2" y1="1114.3" x2="668.19" y2="1114.3" stroke="#333" stroke-width="2.3" stroke-linecap="butt"/>
<line x1="335.2" y1="1126.3" x2="668.19" y2="1126.3" stroke="#333" stroke-width="2.3" stroke-linecap="butt"/>
<line x1="335.2" y1="1145.5" x2="668.19" y2="1145.5" stroke="#333" stroke-width="2.8" stroke-linecap="butt"/>
<line x1="763.33" y1="560.6" x2="1096.32" y2="560.6" stroke="#333" stroke-width="2.3" stroke-linecap="butt"/>
<line x1="763.33" y1="579" x2="1096.32" y2="579" stroke="#333" stroke-width="2.3" stroke-linecap="butt"/>
<line x1="763.33" y1="591" x2="1096.32" y2="591" stroke="#333" stroke-width="2.3" stroke-linecap="butt"/>
<line x1="763.33" y1="602.9" x2="1096.32" y2="602.9" stroke="#333" stroke-width="2.3" stroke-linecap="butt"/>
<line x1="763.33" y1="1102.6" x2="1096.32" y2="1102.6" stroke="#333" stroke-width="2.3" stroke-linecap="butt"/>
<line x1="763.33" y1="1114.3" x2="1096.32" y2="1114.3" stroke="#333" stroke-width="2.3" stroke-linecap="butt"/>
<line x1="763.33" y1="1126.3" x2="1096.32" y2="1126.3" stroke="#333" stroke-width="2.3" stroke-linecap="butt"/>
<line x1="763.33" y1="1145.5" x2="1096.32" y2="1145.5" stroke="#333" stroke-width="2.8" stroke-linecap="butt"/>
<line x1="668.19" y1="561.6" x2="763.33" y2="561.6" stroke="#333" stroke-width="2.6" stroke-linecap="butt"/>
<line x1="668.19" y1="1145.5" x2="763.33" y2="1145.5" stroke="#333" stroke-width="2.4" stroke-linecap="butt"/>
<line x1="715.5" y1="561.6" x2="715.5" y2="1145.5" stroke="#333" stroke-width="2.0" stroke-linecap="butt"/>
<circle cx="691.6" cy="567.4" r="4" fill="#333"/>
<circle cx="691.6" cy="1139.4" r="4" fill="#333"/>
<circle cx="740.1" cy="567.4" r="4" fill="#333"/>
<circle cx="740.1" cy="1139.4" r="4" fill="#333"/>
<line x1="335.2" y1="560.1" x2="335.2" y2="1146.5" stroke="#333" stroke-width="2.6" stroke-linecap="butt"/>
<line x1="382.77" y1="560.1" x2="382.77" y2="1146.5" stroke="#333" stroke-width="2.6" stroke-linecap="butt"/>
<line x1="430.34" y1="560.1" x2="430.34" y2="1146.5" stroke="#333" stroke-width="2.6" stroke-linecap="butt"/>
<line x1="477.91" y1="560.1" x2="477.91" y2="1146.5" stroke="#333" stroke-width="2.6" stroke-linecap="butt"/>
<line x1="525.48" y1="560.1" x2="525.48" y2="1146.5" stroke="#333" stroke-width="2.6" stroke-linecap="butt"/>
<line x1="573.05" y1="560.1" x2="573.05" y2="1146.5" stroke="#333" stroke-width="2.6" stroke-linecap="butt"/>
<line x1="620.62" y1="560.1" x2="620.62" y2="1146.5" stroke="#333" stroke-width="2.6" stroke-linecap="butt"/>
<line x1="668.19" y1="560.1" x2="668.19" y2="1146.5" stroke="#333" stroke-width="2.6" stroke-linecap="butt"/>
<line x1="715.76" y1="560.1" x2="715.76" y2="1146.5" stroke="#333" stroke-width="2.6" stroke-linecap="butt"/>
<line x1="763.33" y1="560.1" x2="763.33" y2="1146.5" stroke="#333" stroke-width="2.6" stroke-linecap="butt"/>
<line x1="810.9" y1="560.1" x2="810.9" y2="1146.5" stroke="#333" stroke-width="2.6" stroke-linecap="butt"/>
<line x1="858.47" y1="560.1" x2="858.47" y2="1146.5" stroke="#333" stroke-width="2.6" stroke-linecap="butt"/>
<line x1="906.04" y1="560.1" x2="906.04" y2="1146.5" stroke="#333" stroke-width="2.6" stroke-linecap="butt"/>
<line x1="953.61" y1="560.1" x2="953.61" y2="1146.5" stroke="#333" stroke-width="2.6" stroke-linecap="butt"/>
<line x1="1001.18" y1="560.1" x2="1001.18" y2="1146.5" stroke="#333" stroke-width="2.6" stroke-linecap="butt"/>
<line x1="1048.75" y1="560.1" x2="1048.75" y2="1146.5" stroke="#333" stroke-width="2.6" stroke-linecap="butt"/>
<line x1="1096.32" y1="560.1" x2="1096.32" y2="1146.5" stroke="#333" stroke-width="2.6" stroke-linecap="butt"/>
<circle cx="358.6" cy="624.2" r="5.8" fill="none" stroke="#333" stroke-width="1.9"/>
<circle cx="358.6" cy="1084.1" r="6" fill="none" stroke="#333" stroke-width="1.9"/>
<rect x="342.5" y="878" width="23.9" height="24.6" rx="1.5" fill="none" stroke="#333" stroke-width="1.8"/>
<ellipse cx="346.5" cy="883.9" rx="3.1" ry="4.2" fill="none" stroke="#333" stroke-width="1.5"/>
<ellipse cx="353.9" cy="883.9" rx="3.1" ry="4.2" fill="none" stroke="#333" stroke-width="1.5"/>
<ellipse cx="360.7" cy="883.9" rx="3.1" ry="4.2" fill="none" stroke="#333" stroke-width="1.5"/>
<text x="372.2" y="886.4" font-size="6.5" text-anchor="middle" font-weight="bold" fill="#333" >1</text>
<ellipse cx="346.5" cy="895.3" rx="3.1" ry="4.2" fill="none" stroke="#333" stroke-width="1.5"/>
<ellipse cx="353.9" cy="895.3" rx="3.1" ry="4.2" fill="none" stroke="#333" stroke-width="1.5"/>
<ellipse cx="360.7" cy="895.3" rx="3.1" ry="4.2" fill="none" stroke="#333" stroke-width="1.5"/>
<text x="372.2" y="897.8" font-size="6.5" text-anchor="middle" font-weight="bold" fill="#333" >2</text>
<rect x="342.5" y="948.6" width="23.9" height="47.4" rx="1.5" fill="none" stroke="#333" stroke-width="1.8"/>
<ellipse cx="346.5" cy="954.5" rx="3.1" ry="4.2" fill="none" stroke="#333" stroke-width="1.5"/>
<ellipse cx="353.9" cy="954.5" rx="3.1" ry="4.2" fill="none" stroke="#333" stroke-width="1.5"/>
<ellipse cx="360.7" cy="954.5" rx="3.1" ry="4.2" fill="none" stroke="#333" stroke-width="1.5"/>
<text x="372.2" y="957" font-size="6.5" text-anchor="middle" font-weight="bold" fill="#333" >1</text>
<ellipse cx="346.5" cy="965.9" rx="3.1" ry="4.2" fill="none" stroke="#333" stroke-width="1.5"/>
<ellipse cx="353.9" cy="965.9" rx="3.1" ry="4.2" fill="none" stroke="#333" stroke-width="1.5"/>
<ellipse cx="360.7" cy="965.9" rx="3.1" ry="4.2" fill="none" stroke="#333" stroke-width="1.5"/>
<text x="372.2" y="968.4" font-size="6.5" text-anchor="middle" font-weight="bold" fill="#333" >2</text>
<ellipse cx="346.5" cy="977.3" rx="3.1" ry="4.2" fill="none" stroke="#333" stroke-width="1.5"/>
<ellipse cx="353.9" cy="977.3" rx="3.1" ry="4.2" fill="none" stroke="#333" stroke-width="1.5"/>
<ellipse cx="360.7" cy="977.3" rx="3.1" ry="4.2" fill="none" stroke="#333" stroke-width="1.5"/>
<text x="372.2" y="979.8" font-size="6.5" text-anchor="middle" font-weight="bold" fill="#333" >3</text>
<ellipse cx="346.5" cy="988.7" rx="3.1" ry="4.2" fill="none" stroke="#333" stroke-width="1.5"/>
<ellipse cx="353.9" cy="988.7" rx="3.1" ry="4.2" fill="none" stroke="#333" stroke-width="1.5"/>
<ellipse cx="360.7" cy="988.7" rx="3.1" ry="4.2" fill="none" stroke="#333" stroke-width="1.5"/>
<text x="372.2" y="991.2" font-size="6.5" text-anchor="middle" font-weight="bold" fill="#333" >4</text>
<text x="347" y="873.5" font-size="6.4" font-weight="bold" fill="#333" transform="rotate(-90 347 873.5)" textLength="14.5" lengthAdjust="spacingAndGlyphs">LINK</text>
<text x="356.7" y="873.5" font-size="6.4" font-weight="bold" fill="#333" transform="rotate(-90 356.7 873.5)" textLength="20" lengthAdjust="spacingAndGlyphs">100Mb</text>
<text x="366.3" y="873.5" font-size="6.4" font-weight="bold" fill="#333" transform="rotate(-90 366.3 873.5)" textLength="30.5" lengthAdjust="spacingAndGlyphs">ACTIVITY</text>
<circle cx="406.17" cy="624.2" r="5.8" fill="none" stroke="#333" stroke-width="1.9"/>
<circle cx="406.17" cy="1084.1" r="6" fill="none" stroke="#333" stroke-width="1.9"/>
<rect x="390.07" y="878" width="23.9" height="24.6" rx="1.5" fill="none" stroke="#333" stroke-width="1.8"/>
<ellipse cx="394.07" cy="883.9" rx="3.1" ry="4.2" fill="none" stroke="#333" stroke-width="1.5"/>
<ellipse cx="401.47" cy="883.9" rx="3.1" ry="4.2" fill="none" stroke="#333" stroke-width="1.5"/>
<ellipse cx="408.27" cy="883.9" rx="3.1" ry="4.2" fill="none" stroke="#333" stroke-width="1.5"/>
<text x="419.77" y="886.4" font-size="6.5" text-anchor="middle" font-weight="bold" fill="#333" >1</text>
<ellipse cx="394.07" cy="895.3" rx="3.1" ry="4.2" fill="none" stroke="#333" stroke-width="1.5"/>
<ellipse cx="401.47" cy="895.3" rx="3.1" ry="4.2" fill="none" stroke="#333" stroke-width="1.5"/>
<ellipse cx="408.27" cy="895.3" rx="3.1" ry="4.2" fill="none" stroke="#333" stroke-width="1.5"/>
<text x="419.77" y="897.8" font-size="6.5" text-anchor="middle" font-weight="bold" fill="#333" >2</text>
<rect x="390.07" y="948.6" width="23.9" height="47.4" rx="1.5" fill="none" stroke="#333" stroke-width="1.8"/>
<ellipse cx="394.07" cy="954.5" rx="3.1" ry="4.2" fill="none" stroke="#333" stroke-width="1.5"/>
<ellipse cx="401.47" cy="954.5" rx="3.1" ry="4.2" fill="none" stroke="#333" stroke-width="1.5"/>
<ellipse cx="408.27" cy="954.5" rx="3.1" ry="4.2" fill="none" stroke="#333" stroke-width="1.5"/>
<text x="419.77" y="957" font-size="6.5" text-anchor="middle" font-weight="bold" fill="#333" >1</text>
<ellipse cx="394.07" cy="965.9" rx="3.1" ry="4.2" fill="none" stroke="#333" stroke-width="1.5"/>
<ellipse cx="401.47" cy="965.9" rx="3.1" ry="4.2" fill="none" stroke="#333" stroke-width="1.5"/>
<ellipse cx="408.27" cy="965.9" rx="3.1" ry="4.2" fill="none" stroke="#333" stroke-width="1.5"/>
<text x="419.77" y="968.4" font-size="6.5" text-anchor="middle" font-weight="bold" fill="#333" >2</text>
<ellipse cx="394.07" cy="977.3" rx="3.1" ry="4.2" fill="none" stroke="#333" stroke-width="1.5"/>
<ellipse cx="401.47" cy="977.3" rx="3.1" ry="4.2" fill="none" stroke="#333" stroke-width="1.5"/>
<ellipse cx="408.27" cy="977.3" rx="3.1" ry="4.2" fill="none" stroke="#333" stroke-width="1.5"/>
<text x="419.77" y="979.8" font-size="6.5" text-anchor="middle" font-weight="bold" fill="#333" >3</text>
<ellipse cx="394.07" cy="988.7" rx="3.1" ry="4.2" fill="none" stroke="#333" stroke-width="1.5"/>
<ellipse cx="401.47" cy="988.7" rx="3.1" ry="4.2" fill="none" stroke="#333" stroke-width="1.5"/>
<ellipse cx="408.27" cy="988.7" rx="3.1" ry="4.2" fill="none" stroke="#333" stroke-width="1.5"/>
<text x="419.77" y="991.2" font-size="6.5" text-anchor="middle" font-weight="bold" fill="#333" >4</text>
<text x="394.57" y="873.5" font-size="6.4" font-weight="bold" fill="#333" transform="rotate(-90 394.57 873.5)" textLength="14.5" lengthAdjust="spacingAndGlyphs">LINK</text>
<text x="404.27" y="873.5" font-size="6.4" font-weight="bold" fill="#333" transform="rotate(-90 404.27 873.5)" textLength="20" lengthAdjust="spacingAndGlyphs">100Mb</text>
<text x="413.87" y="873.5" font-size="6.4" font-weight="bold" fill="#333" transform="rotate(-90 413.87 873.5)" textLength="30.5" lengthAdjust="spacingAndGlyphs">ACTIVITY</text>
<circle cx="453.74" cy="624.2" r="5.8" fill="none" stroke="#333" stroke-width="1.9"/>
<circle cx="453.74" cy="1084.1" r="6" fill="none" stroke="#333" stroke-width="1.9"/>
<rect x="437.64" y="878" width="23.9" height="24.6" rx="1.5" fill="none" stroke="#333" stroke-width="1.8"/>
<ellipse cx="441.64" cy="883.9" rx="3.1" ry="4.2" fill="none" stroke="#333" stroke-width="1.5"/>
<ellipse cx="449.04" cy="883.9" rx="3.1" ry="4.2" fill="none" stroke="#333" stroke-width="1.5"/>
<ellipse cx="455.84" cy="883.9" rx="3.1" ry="4.2" fill="none" stroke="#333" stroke-width="1.5"/>
<text x="467.34" y="886.4" font-size="6.5" text-anchor="middle" font-weight="bold" fill="#333" >1</text>
<ellipse cx="441.64" cy="895.3" rx="3.1" ry="4.2" fill="none" stroke="#333" stroke-width="1.5"/>
<ellipse cx="449.04" cy="895.3" rx="3.1" ry="4.2" fill="none" stroke="#333" stroke-width="1.5"/>
<ellipse cx="455.84" cy="895.3" rx="3.1" ry="4.2" fill="none" stroke="#333" stroke-width="1.5"/>
<text x="467.34" y="897.8" font-size="6.5" text-anchor="middle" font-weight="bold" fill="#333" >2</text>
<rect x="437.64" y="948.6" width="23.9" height="47.4" rx="1.5" fill="none" stroke="#333" stroke-width="1.8"/>
<ellipse cx="441.64" cy="954.5" rx="3.1" ry="4.2" fill="none" stroke="#333" stroke-width="1.5"/>
<ellipse cx="449.04" cy="954.5" rx="3.1" ry="4.2" fill="none" stroke="#333" stroke-width="1.5"/>
<ellipse cx="455.84" cy="954.5" rx="3.1" ry="4.2" fill="none" stroke="#333" stroke-width="1.5"/>
<text x="467.34" y="957" font-size="6.5" text-anchor="middle" font-weight="bold" fill="#333" >1</text>
<ellipse cx="441.64" cy="965.9" rx="3.1" ry="4.2" fill="none" stroke="#333" stroke-width="1.5"/>
<ellipse cx="449.04" cy="965.9" rx="3.1" ry="4.2" fill="none" stroke="#333" stroke-width="1.5"/>
<ellipse cx="455.84" cy="965.9" rx="3.1" ry="4.2" fill="none" stroke="#333" stroke-width="1.5"/>
<text x="467.34" y="968.4" font-size="6.5" text-anchor="middle" font-weight="bold" fill="#333" >2</text>
<ellipse cx="441.64" cy="977.3" rx="3.1" ry="4.2" fill="none" stroke="#333" stroke-width="1.5"/>
<ellipse cx="449.04" cy="977.3" rx="3.1" ry="4.2" fill="none" stroke="#333" stroke-width="1.5"/>
<ellipse cx="455.84" cy="977.3" rx="3.1" ry="4.2" fill="none" stroke="#333" stroke-width="1.5"/>
<text x="467.34" y="979.8" font-size="6.5" text-anchor="middle" font-weight="bold" fill="#333" >3</text>
<ellipse cx="441.64" cy="988.7" rx="3.1" ry="4.2" fill="none" stroke="#333" stroke-width="1.5"/>
<ellipse cx="449.04" cy="988.7" rx="3.1" ry="4.2" fill="none" stroke="#333" stroke-width="1.5"/>
<ellipse cx="455.84" cy="988.7" rx="3.1" ry="4.2" fill="none" stroke="#333" stroke-width="1.5"/>
<text x="467.34" y="991.2" font-size="6.5" text-anchor="middle" font-weight="bold" fill="#333" >4</text>
<text x="442.14" y="873.5" font-size="6.4" font-weight="bold" fill="#333" transform="rotate(-90 442.14 873.5)" textLength="14.5" lengthAdjust="spacingAndGlyphs">LINK</text>
<text x="451.84" y="873.5" font-size="6.4" font-weight="bold" fill="#333" transform="rotate(-90 451.84 873.5)" textLength="20" lengthAdjust="spacingAndGlyphs">100Mb</text>
<text x="461.44" y="873.5" font-size="6.4" font-weight="bold" fill="#333" transform="rotate(-90 461.44 873.5)" textLength="30.5" lengthAdjust="spacingAndGlyphs">ACTIVITY</text>
<circle cx="501.31" cy="624.2" r="5.8" fill="none" stroke="#333" stroke-width="1.9"/>
<circle cx="501.31" cy="1084.1" r="6" fill="none" stroke="#333" stroke-width="1.9"/>
<rect x="485.21" y="878" width="23.9" height="24.6" rx="1.5" fill="none" stroke="#333" stroke-width="1.8"/>
<ellipse cx="489.21" cy="883.9" rx="3.1" ry="4.2" fill="none" stroke="#333" stroke-width="1.5"/>
<ellipse cx="496.61" cy="883.9" rx="3.1" ry="4.2" fill="none" stroke="#333" stroke-width="1.5"/>
<ellipse cx="503.41" cy="883.9" rx="3.1" ry="4.2" fill="none" stroke="#333" stroke-width="1.5"/>
<text x="514.91" y="886.4" font-size="6.5" text-anchor="middle" font-weight="bold" fill="#333" >1</text>
<ellipse cx="489.21" cy="895.3" rx="3.1" ry="4.2" fill="none" stroke="#333" stroke-width="1.5"/>
<ellipse cx="496.61" cy="895.3" rx="3.1" ry="4.2" fill="none" stroke="#333" stroke-width="1.5"/>
<ellipse cx="503.41" cy="895.3" rx="3.1" ry="4.2" fill="none" stroke="#333" stroke-width="1.5"/>
<text x="514.91" y="897.8" font-size="6.5" text-anchor="middle" font-weight="bold" fill="#333" >2</text>
<rect x="485.21" y="948.6" width="23.9" height="47.4" rx="1.5" fill="none" stroke="#333" stroke-width="1.8"/>
<ellipse cx="489.21" cy="954.5" rx="3.1" ry="4.2" fill="none" stroke="#333" stroke-width="1.5"/>
<ellipse cx="496.61" cy="954.5" rx="3.1" ry="4.2" fill="none" stroke="#333" stroke-width="1.5"/>
<ellipse cx="503.41" cy="954.5" rx="3.1" ry="4.2" fill="none" stroke="#333" stroke-width="1.5"/>
<text x="514.91" y="957" font-size="6.5" text-anchor="middle" font-weight="bold" fill="#333" >1</text>
<ellipse cx="489.21" cy="965.9" rx="3.1" ry="4.2" fill="none" stroke="#333" stroke-width="1.5"/>
<ellipse cx="496.61" cy="965.9" rx="3.1" ry="4.2" fill="none" stroke="#333" stroke-width="1.5"/>
<ellipse cx="503.41" cy="965.9" rx="3.1" ry="4.2" fill="none" stroke="#333" stroke-width="1.5"/>
<text x="514.91" y="968.4" font-size="6.5" text-anchor="middle" font-weight="bold" fill="#333" >2</text>
<ellipse cx="489.21" cy="977.3" rx="3.1" ry="4.2" fill="none" stroke="#333" stroke-width="1.5"/>
<ellipse cx="496.61" cy="977.3" rx="3.1" ry="4.2" fill="none" stroke="#333" stroke-width="1.5"/>
<ellipse cx="503.41" cy="977.3" rx="3.1" ry="4.2" fill="none" stroke="#333" stroke-width="1.5"/>
<text x="514.91" y="979.8" font-size="6.5" text-anchor="middle" font-weight="bold" fill="#333" >3</text>
<ellipse cx="489.21" cy="988.7" rx="3.1" ry="4.2" fill="none" stroke="#333" stroke-width="1.5"/>
<ellipse cx="496.61" cy="988.7" rx="3.1" ry="4.2" fill="none" stroke="#333" stroke-width="1.5"/>
<ellipse cx="503.41" cy="988.7" rx="3.1" ry="4.2" fill="none" stroke="#333" stroke-width="1.5"/>
<text x="514.91" y="991.2" font-size="6.5" text-anchor="middle" font-weight="bold" fill="#333" >4</text>
<text x="489.71" y="873.5" font-size="6.4" font-weight="bold" fill="#333" transform="rotate(-90 489.71 873.5)" textLength="14.5" lengthAdjust="spacingAndGlyphs">LINK</text>
<text x="499.41" y="873.5" font-size="6.4" font-weight="bold" fill="#333" transform="rotate(-90 499.41 873.5)" textLength="20" lengthAdjust="spacingAndGlyphs">100Mb</text>
<text x="509.01" y="873.5" font-size="6.4" font-weight="bold" fill="#333" transform="rotate(-90 509.01 873.5)" textLength="30.5" lengthAdjust="spacingAndGlyphs">ACTIVITY</text>
<circle cx="548.88" cy="624.2" r="5.8" fill="none" stroke="#333" stroke-width="1.9"/>
<circle cx="548.88" cy="1084.1" r="6" fill="none" stroke="#333" stroke-width="1.9"/>
<rect x="532.78" y="878" width="23.9" height="24.6" rx="1.5" fill="none" stroke="#333" stroke-width="1.8"/>
<ellipse cx="536.78" cy="883.9" rx="3.1" ry="4.2" fill="none" stroke="#333" stroke-width="1.5"/>
<ellipse cx="544.18" cy="883.9" rx="3.1" ry="4.2" fill="none" stroke="#333" stroke-width="1.5"/>
<ellipse cx="550.98" cy="883.9" rx="3.1" ry="4.2" fill="none" stroke="#333" stroke-width="1.5"/>
<text x="562.48" y="886.4" font-size="6.5" text-anchor="middle" font-weight="bold" fill="#333" >1</text>
<ellipse cx="536.78" cy="895.3" rx="3.1" ry="4.2" fill="none" stroke="#333" stroke-width="1.5"/>
<ellipse cx="544.18" cy="895.3" rx="3.1" ry="4.2" fill="none" stroke="#333" stroke-width="1.5"/>
<ellipse cx="550.98" cy="895.3" rx="3.1" ry="4.2" fill="none" stroke="#333" stroke-width="1.5"/>
<text x="562.48" y="897.8" font-size="6.5" text-anchor="middle" font-weight="bold" fill="#333" >2</text>
<rect x="532.78" y="948.6" width="23.9" height="47.4" rx="1.5" fill="none" stroke="#333" stroke-width="1.8"/>
<ellipse cx="536.78" cy="954.5" rx="3.1" ry="4.2" fill="none" stroke="#333" stroke-width="1.5"/>
<ellipse cx="544.18" cy="954.5" rx="3.1" ry="4.2" fill="none" stroke="#333" stroke-width="1.5"/>
<ellipse cx="550.98" cy="954.5" rx="3.1" ry="4.2" fill="none" stroke="#333" stroke-width="1.5"/>
<text x="562.48" y="957" font-size="6.5" text-anchor="middle" font-weight="bold" fill="#333" >1</text>
<ellipse cx="536.78" cy="965.9" rx="3.1" ry="4.2" fill="none" stroke="#333" stroke-width="1.5"/>
<ellipse cx="544.18" cy="965.9" rx="3.1" ry="4.2" fill="none" stroke="#333" stroke-width="1.5"/>
<ellipse cx="550.98" cy="965.9" rx="3.1" ry="4.2" fill="none" stroke="#333" stroke-width="1.5"/>
<text x="562.48" y="968.4" font-size="6.5" text-anchor="middle" font-weight="bold" fill="#333" >2</text>
<ellipse cx="536.78" cy="977.3" rx="3.1" ry="4.2" fill="none" stroke="#333" stroke-width="1.5"/>
<ellipse cx="544.18" cy="977.3" rx="3.1" ry="4.2" fill="none" stroke="#333" stroke-width="1.5"/>
<ellipse cx="550.98" cy="977.3" rx="3.1" ry="4.2" fill="none" stroke="#333" stroke-width="1.5"/>
<text x="562.48" y="979.8" font-size="6.5" text-anchor="middle" font-weight="bold" fill="#333" >3</text>
<ellipse cx="536.78" cy="988.7" rx="3.1" ry="4.2" fill="none" stroke="#333" stroke-width="1.5"/>
<ellipse cx="544.18" cy="988.7" rx="3.1" ry="4.2" fill="none" stroke="#333" stroke-width="1.5"/>
<ellipse cx="550.98" cy="988.7" rx="3.1" ry="4.2" fill="none" stroke="#333" stroke-width="1.5"/>
<text x="562.48" y="991.2" font-size="6.5" text-anchor="middle" font-weight="bold" fill="#333" >4</text>
<text x="537.28" y="873.5" font-size="6.4" font-weight="bold" fill="#333" transform="rotate(-90 537.28 873.5)" textLength="14.5" lengthAdjust="spacingAndGlyphs">LINK</text>
<text x="546.98" y="873.5" font-size="6.4" font-weight="bold" fill="#333" transform="rotate(-90 546.98 873.5)" textLength="20" lengthAdjust="spacingAndGlyphs">100Mb</text>
<text x="556.58" y="873.5" font-size="6.4" font-weight="bold" fill="#333" transform="rotate(-90 556.58 873.5)" textLength="30.5" lengthAdjust="spacingAndGlyphs">ACTIVITY</text>
<circle cx="596.45" cy="624.2" r="5.8" fill="none" stroke="#333" stroke-width="1.9"/>
<circle cx="596.45" cy="1084.1" r="6" fill="none" stroke="#333" stroke-width="1.9"/>
<rect x="580.35" y="878" width="23.9" height="24.6" rx="1.5" fill="none" stroke="#333" stroke-width="1.8"/>
<ellipse cx="584.35" cy="883.9" rx="3.1" ry="4.2" fill="none" stroke="#333" stroke-width="1.5"/>
<ellipse cx="591.75" cy="883.9" rx="3.1" ry="4.2" fill="none" stroke="#333" stroke-width="1.5"/>
<ellipse cx="598.55" cy="883.9" rx="3.1" ry="4.2" fill="none" stroke="#333" stroke-width="1.5"/>
<text x="610.05" y="886.4" font-size="6.5" text-anchor="middle" font-weight="bold" fill="#333" >1</text>
<ellipse cx="584.35" cy="895.3" rx="3.1" ry="4.2" fill="none" stroke="#333" stroke-width="1.5"/>
<ellipse cx="591.75" cy="895.3" rx="3.1" ry="4.2" fill="none" stroke="#333" stroke-width="1.5"/>
<ellipse cx="598.55" cy="895.3" rx="3.1" ry="4.2" fill="none" stroke="#333" stroke-width="1.5"/>
<text x="610.05" y="897.8" font-size="6.5" text-anchor="middle" font-weight="bold" fill="#333" >2</text>
<rect x="580.35" y="948.6" width="23.9" height="47.4" rx="1.5" fill="none" stroke="#333" stroke-width="1.8"/>
<ellipse cx="584.35" cy="954.5" rx="3.1" ry="4.2" fill="none" stroke="#333" stroke-width="1.5"/>
<ellipse cx="591.75" cy="954.5" rx="3.1" ry="4.2" fill="none" stroke="#333" stroke-width="1.5"/>
<ellipse cx="598.55" cy="954.5" rx="3.1" ry="4.2" fill="none" stroke="#333" stroke-width="1.5"/>
<text x="610.05" y="957" font-size="6.5" text-anchor="middle" font-weight="bold" fill="#333" >1</text>
<ellipse cx="584.35" cy="965.9" rx="3.1" ry="4.2" fill="none" stroke="#333" stroke-width="1.5"/>
<ellipse cx="591.75" cy="965.9" rx="3.1" ry="4.2" fill="none" stroke="#333" stroke-width="1.5"/>
<ellipse cx="598.55" cy="965.9" rx="3.1" ry="4.2" fill="none" stroke="#333" stroke-width="1.5"/>
<text x="610.05" y="968.4" font-size="6.5" text-anchor="middle" font-weight="bold" fill="#333" >2</text>
<ellipse cx="584.35" cy="977.3" rx="3.1" ry="4.2" fill="none" stroke="#333" stroke-width="1.5"/>
<ellipse cx="591.75" cy="977.3" rx="3.1" ry="4.2" fill="none" stroke="#333" stroke-width="1.5"/>
<ellipse cx="598.55" cy="977.3" rx="3.1" ry="4.2" fill="none" stroke="#333" stroke-width="1.5"/>
<text x="610.05" y="979.8" font-size="6.5" text-anchor="middle" font-weight="bold" fill="#333" >3</text>
<ellipse cx="584.35" cy="988.7" rx="3.1" ry="4.2" fill="none" stroke="#333" stroke-width="1.5"/>
<ellipse cx="591.75" cy="988.7" rx="3.1" ry="4.2" fill="none" stroke="#333" stroke-width="1.5"/>
<ellipse cx="598.55" cy="988.7" rx="3.1" ry="4.2" fill="none" stroke="#333" stroke-width="1.5"/>
<text x="610.05" y="991.2" font-size="6.5" text-anchor="middle" font-weight="bold" fill="#333" >4</text>
<text x="584.85" y="873.5" font-size="6.4" font-weight="bold" fill="#333" transform="rotate(-90 584.85 873.5)" textLength="14.5" lengthAdjust="spacingAndGlyphs">LINK</text>
<text x="594.55" y="873.5" font-size="6.4" font-weight="bold" fill="#333" transform="rotate(-90 594.55 873.5)" textLength="20" lengthAdjust="spacingAndGlyphs">100Mb</text>
<text x="604.15" y="873.5" font-size="6.4" font-weight="bold" fill="#333" transform="rotate(-90 604.15 873.5)" textLength="30.5" lengthAdjust="spacingAndGlyphs">ACTIVITY</text>
<circle cx="834.3" cy="624.2" r="5.8" fill="none" stroke="#333" stroke-width="1.9"/>
<circle cx="834.3" cy="1084.1" r="6" fill="none" stroke="#333" stroke-width="1.9"/>
<rect x="818.2" y="878" width="23.9" height="24.6" rx="1.5" fill="none" stroke="#333" stroke-width="1.8"/>
<ellipse cx="822.2" cy="883.9" rx="3.1" ry="4.2" fill="none" stroke="#333" stroke-width="1.5"/>
<ellipse cx="829.6" cy="883.9" rx="3.1" ry="4.2" fill="none" stroke="#333" stroke-width="1.5"/>
<ellipse cx="836.4" cy="883.9" rx="3.1" ry="4.2" fill="none" stroke="#333" stroke-width="1.5"/>
<text x="847.9" y="886.4" font-size="6.5" text-anchor="middle" font-weight="bold" fill="#333" >1</text>
<ellipse cx="822.2" cy="895.3" rx="3.1" ry="4.2" fill="none" stroke="#333" stroke-width="1.5"/>
<ellipse cx="829.6" cy="895.3" rx="3.1" ry="4.2" fill="none" stroke="#333" stroke-width="1.5"/>
<ellipse cx="836.4" cy="895.3" rx="3.1" ry="4.2" fill="none" stroke="#333" stroke-width="1.5"/>
<text x="847.9" y="897.8" font-size="6.5" text-anchor="middle" font-weight="bold" fill="#333" >2</text>
<rect x="818.2" y="948.6" width="23.9" height="47.4" rx="1.5" fill="none" stroke="#333" stroke-width="1.8"/>
<ellipse cx="822.2" cy="954.5" rx="3.1" ry="4.2" fill="none" stroke="#333" stroke-width="1.5"/>
<ellipse cx="829.6" cy="954.5" rx="3.1" ry="4.2" fill="none" stroke="#333" stroke-width="1.5"/>
<ellipse cx="836.4" cy="954.5" rx="3.1" ry="4.2" fill="none" stroke="#333" stroke-width="1.5"/>
<text x="847.9" y="957" font-size="6.5" text-anchor="middle" font-weight="bold" fill="#333" >1</text>
<ellipse cx="822.2" cy="965.9" rx="3.1" ry="4.2" fill="none" stroke="#333" stroke-width="1.5"/>
<ellipse cx="829.6" cy="965.9" rx="3.1" ry="4.2" fill="none" stroke="#333" stroke-width="1.5"/>
<ellipse cx="836.4" cy="965.9" rx="3.1" ry="4.2" fill="none" stroke="#333" stroke-width="1.5"/>
<text x="847.9" y="968.4" font-size="6.5" text-anchor="middle" font-weight="bold" fill="#333" >2</text>
<ellipse cx="822.2" cy="977.3" rx="3.1" ry="4.2" fill="none" stroke="#333" stroke-width="1.5"/>
<ellipse cx="829.6" cy="977.3" rx="3.1" ry="4.2" fill="none" stroke="#333" stroke-width="1.5"/>
<ellipse cx="836.4" cy="977.3" rx="3.1" ry="4.2" fill="none" stroke="#333" stroke-width="1.5"/>
<text x="847.9" y="979.8" font-size="6.5" text-anchor="middle" font-weight="bold" fill="#333" >3</text>
<ellipse cx="822.2" cy="988.7" rx="3.1" ry="4.2" fill="none" stroke="#333" stroke-width="1.5"/>
<ellipse cx="829.6" cy="988.7" rx="3.1" ry="4.2" fill="none" stroke="#333" stroke-width="1.5"/>
<ellipse cx="836.4" cy="988.7" rx="3.1" ry="4.2" fill="none" stroke="#333" stroke-width="1.5"/>
<text x="847.9" y="991.2" font-size="6.5" text-anchor="middle" font-weight="bold" fill="#333" >4</text>
<text x="822.7" y="873.5" font-size="6.4" font-weight="bold" fill="#333" transform="rotate(-90 822.7 873.5)" textLength="14.5" lengthAdjust="spacingAndGlyphs">LINK</text>
<text x="832.4" y="873.5" font-size="6.4" font-weight="bold" fill="#333" transform="rotate(-90 832.4 873.5)" textLength="20" lengthAdjust="spacingAndGlyphs">100Mb</text>
<text x="842" y="873.5" font-size="6.4" font-weight="bold" fill="#333" transform="rotate(-90 842 873.5)" textLength="30.5" lengthAdjust="spacingAndGlyphs">ACTIVITY</text>
<circle cx="881.87" cy="624.2" r="5.8" fill="none" stroke="#333" stroke-width="1.9"/>
<circle cx="881.87" cy="1084.1" r="6" fill="none" stroke="#333" stroke-width="1.9"/>
<rect x="865.77" y="878" width="23.9" height="24.6" rx="1.5" fill="none" stroke="#333" stroke-width="1.8"/>
<ellipse cx="869.77" cy="883.9" rx="3.1" ry="4.2" fill="none" stroke="#333" stroke-width="1.5"/>
<ellipse cx="877.17" cy="883.9" rx="3.1" ry="4.2" fill="none" stroke="#333" stroke-width="1.5"/>
<ellipse cx="883.97" cy="883.9" rx="3.1" ry="4.2" fill="none" stroke="#333" stroke-width="1.5"/>
<text x="895.47" y="886.4" font-size="6.5" text-anchor="middle" font-weight="bold" fill="#333" >1</text>
<ellipse cx="869.77" cy="895.3" rx="3.1" ry="4.2" fill="none" stroke="#333" stroke-width="1.5"/>
<ellipse cx="877.17" cy="895.3" rx="3.1" ry="4.2" fill="none" stroke="#333" stroke-width="1.5"/>
<ellipse cx="883.97" cy="895.3" rx="3.1" ry="4.2" fill="none" stroke="#333" stroke-width="1.5"/>
<text x="895.47" y="897.8" font-size="6.5" text-anchor="middle" font-weight="bold" fill="#333" >2</text>
<rect x="865.77" y="948.6" width="23.9" height="47.4" rx="1.5" fill="none" stroke="#333" stroke-width="1.8"/>
<ellipse cx="869.77" cy="954.5" rx="3.1" ry="4.2" fill="none" stroke="#333" stroke-width="1.5"/>
<ellipse cx="877.17" cy="954.5" rx="3.1" ry="4.2" fill="none" stroke="#333" stroke-width="1.5"/>
<ellipse cx="883.97" cy="954.5" rx="3.1" ry="4.2" fill="none" stroke="#333" stroke-width="1.5"/>
<text x="895.47" y="957" font-size="6.5" text-anchor="middle" font-weight="bold" fill="#333" >1</text>
<ellipse cx="869.77" cy="965.9" rx="3.1" ry="4.2" fill="none" stroke="#333" stroke-width="1.5"/>
<ellipse cx="877.17" cy="965.9" rx="3.1" ry="4.2" fill="none" stroke="#333" stroke-width="1.5"/>
<ellipse cx="883.97" cy="965.9" rx="3.1" ry="4.2" fill="none" stroke="#333" stroke-width="1.5"/>
<text x="895.47" y="968.4" font-size="6.5" text-anchor="middle" font-weight="bold" fill="#333" >2</text>
<ellipse cx="869.77" cy="977.3" rx="3.1" ry="4.2" fill="none" stroke="#333" stroke-width="1.5"/>
<ellipse cx="877.17" cy="977.3" rx="3.1" ry="4.2" fill="none" stroke="#333" stroke-width="1.5"/>
<ellipse cx="883.97" cy="977.3" rx="3.1" ry="4.2" fill="none" stroke="#333" stroke-width="1.5"/>
<text x="895.47" y="979.8" font-size="6.5" text-anchor="middle" font-weight="bold" fill="#333" >3</text>
<ellipse cx="869.77" cy="988.7" rx="3.1" ry="4.2" fill="none" stroke="#333" stroke-width="1.5"/>
<ellipse cx="877.17" cy="988.7" rx="3.1" ry="4.2" fill="none" stroke="#333" stroke-width="1.5"/>
<ellipse cx="883.97" cy="988.7" rx="3.1" ry="4.2" fill="none" stroke="#333" stroke-width="1.5"/>
<text x="895.47" y="991.2" font-size="6.5" text-anchor="middle" font-weight="bold" fill="#333" >4</text>
<text x="870.27" y="873.5" font-size="6.4" font-weight="bold" fill="#333" transform="rotate(-90 870.27 873.5)" textLength="14.5" lengthAdjust="spacingAndGlyphs">LINK</text>
<text x="879.97" y="873.5" font-size="6.4" font-weight="bold" fill="#333" transform="rotate(-90 879.97 873.5)" textLength="20" lengthAdjust="spacingAndGlyphs">100Mb</text>
<text x="889.57" y="873.5" font-size="6.4" font-weight="bold" fill="#333" transform="rotate(-90 889.57 873.5)" textLength="30.5" lengthAdjust="spacingAndGlyphs">ACTIVITY</text>
<circle cx="929.44" cy="624.2" r="5.8" fill="none" stroke="#333" stroke-width="1.9"/>
<circle cx="929.44" cy="1084.1" r="6" fill="none" stroke="#333" stroke-width="1.9"/>
<rect x="913.34" y="878" width="23.9" height="24.6" rx="1.5" fill="none" stroke="#333" stroke-width="1.8"/>
<ellipse cx="917.34" cy="883.9" rx="3.1" ry="4.2" fill="none" stroke="#333" stroke-width="1.5"/>
<ellipse cx="924.74" cy="883.9" rx="3.1" ry="4.2" fill="none" stroke="#333" stroke-width="1.5"/>
<ellipse cx="931.54" cy="883.9" rx="3.1" ry="4.2" fill="none" stroke="#333" stroke-width="1.5"/>
<text x="943.04" y="886.4" font-size="6.5" text-anchor="middle" font-weight="bold" fill="#333" >1</text>
<ellipse cx="917.34" cy="895.3" rx="3.1" ry="4.2" fill="none" stroke="#333" stroke-width="1.5"/>
<ellipse cx="924.74" cy="895.3" rx="3.1" ry="4.2" fill="none" stroke="#333" stroke-width="1.5"/>
<ellipse cx="931.54" cy="895.3" rx="3.1" ry="4.2" fill="none" stroke="#333" stroke-width="1.5"/>
<text x="943.04" y="897.8" font-size="6.5" text-anchor="middle" font-weight="bold" fill="#333" >2</text>
<rect x="913.34" y="948.6" width="23.9" height="47.4" rx="1.5" fill="none" stroke="#333" stroke-width="1.8"/>
<ellipse cx="917.34" cy="954.5" rx="3.1" ry="4.2" fill="none" stroke="#333" stroke-width="1.5"/>
<ellipse cx="924.74" cy="954.5" rx="3.1" ry="4.2" fill="none" stroke="#333" stroke-width="1.5"/>
<ellipse cx="931.54" cy="954.5" rx="3.1" ry="4.2" fill="none" stroke="#333" stroke-width="1.5"/>
<text x="943.04" y="957" font-size="6.5" text-anchor="middle" font-weight="bold" fill="#333" >1</text>
<ellipse cx="917.34" cy="965.9" rx="3.1" ry="4.2" fill="none" stroke="#333" stroke-width="1.5"/>
<ellipse cx="924.74" cy="965.9" rx="3.1" ry="4.2" fill="none" stroke="#333" stroke-width="1.5"/>
<ellipse cx="931.54" cy="965.9" rx="3.1" ry="4.2" fill="none" stroke="#333" stroke-width="1.5"/>
<text x="943.04" y="968.4" font-size="6.5" text-anchor="middle" font-weight="bold" fill="#333" >2</text>
<ellipse cx="917.34" cy="977.3" rx="3.1" ry="4.2" fill="none" stroke="#333" stroke-width="1.5"/>
<ellipse cx="924.74" cy="977.3" rx="3.1" ry="4.2" fill="none" stroke="#333" stroke-width="1.5"/>
<ellipse cx="931.54" cy="977.3" rx="3.1" ry="4.2" fill="none" stroke="#333" stroke-width="1.5"/>
<text x="943.04" y="979.8" font-size="6.5" text-anchor="middle" font-weight="bold" fill="#333" >3</text>
<ellipse cx="917.34" cy="988.7" rx="3.1" ry="4.2" fill="none" stroke="#333" stroke-width="1.5"/>
<ellipse cx="924.74" cy="988.7" rx="3.1" ry="4.2" fill="none" stroke="#333" stroke-width="1.5"/>
<ellipse cx="931.54" cy="988.7" rx="3.1" ry="4.2" fill="none" stroke="#333" stroke-width="1.5"/>
<text x="943.04" y="991.2" font-size="6.5" text-anchor="middle" font-weight="bold" fill="#333" >4</text>
<text x="917.84" y="873.5" font-size="6.4" font-weight="bold" fill="#333" transform="rotate(-90 917.84 873.5)" textLength="14.5" lengthAdjust="spacingAndGlyphs">LINK</text>
<text x="927.54" y="873.5" font-size="6.4" font-weight="bold" fill="#333" transform="rotate(-90 927.54 873.5)" textLength="20" lengthAdjust="spacingAndGlyphs">100Mb</text>
<text x="937.14" y="873.5" font-size="6.4" font-weight="bold" fill="#333" transform="rotate(-90 937.14 873.5)" textLength="30.5" lengthAdjust="spacingAndGlyphs">ACTIVITY</text>
<circle cx="977.01" cy="624.2" r="5.8" fill="none" stroke="#333" stroke-width="1.9"/>
<circle cx="977.01" cy="1084.1" r="6" fill="none" stroke="#333" stroke-width="1.9"/>
<rect x="960.91" y="878" width="23.9" height="24.6" rx="1.5" fill="none" stroke="#333" stroke-width="1.8"/>
<ellipse cx="964.91" cy="883.9" rx="3.1" ry="4.2" fill="none" stroke="#333" stroke-width="1.5"/>
<ellipse cx="972.31" cy="883.9" rx="3.1" ry="4.2" fill="none" stroke="#333" stroke-width="1.5"/>
<ellipse cx="979.11" cy="883.9" rx="3.1" ry="4.2" fill="none" stroke="#333" stroke-width="1.5"/>
<text x="990.61" y="886.4" font-size="6.5" text-anchor="middle" font-weight="bold" fill="#333" >1</text>
<ellipse cx="964.91" cy="895.3" rx="3.1" ry="4.2" fill="none" stroke="#333" stroke-width="1.5"/>
<ellipse cx="972.31" cy="895.3" rx="3.1" ry="4.2" fill="none" stroke="#333" stroke-width="1.5"/>
<ellipse cx="979.11" cy="895.3" rx="3.1" ry="4.2" fill="none" stroke="#333" stroke-width="1.5"/>
<text x="990.61" y="897.8" font-size="6.5" text-anchor="middle" font-weight="bold" fill="#333" >2</text>
<rect x="960.91" y="948.6" width="23.9" height="47.4" rx="1.5" fill="none" stroke="#333" stroke-width="1.8"/>
<ellipse cx="964.91" cy="954.5" rx="3.1" ry="4.2" fill="none" stroke="#333" stroke-width="1.5"/>
<ellipse cx="972.31" cy="954.5" rx="3.1" ry="4.2" fill="none" stroke="#333" stroke-width="1.5"/>
<ellipse cx="979.11" cy="954.5" rx="3.1" ry="4.2" fill="none" stroke="#333" stroke-width="1.5"/>
<text x="990.61" y="957" font-size="6.5" text-anchor="middle" font-weight="bold" fill="#333" >1</text>
<ellipse cx="964.91" cy="965.9" rx="3.1" ry="4.2" fill="none" stroke="#333" stroke-width="1.5"/>
<ellipse cx="972.31" cy="965.9" rx="3.1" ry="4.2" fill="none" stroke="#333" stroke-width="1.5"/>
<ellipse cx="979.11" cy="965.9" rx="3.1" ry="4.2" fill="none" stroke="#333" stroke-width="1.5"/>
<text x="990.61" y="968.4" font-size="6.5" text-anchor="middle" font-weight="bold" fill="#333" >2</text>
<ellipse cx="964.91" cy="977.3" rx="3.1" ry="4.2" fill="none" stroke="#333" stroke-width="1.5"/>
<ellipse cx="972.31" cy="977.3" rx="3.1" ry="4.2" fill="none" stroke="#333" stroke-width="1.5"/>
<ellipse cx="979.11" cy="977.3" rx="3.1" ry="4.2" fill="none" stroke="#333" stroke-width="1.5"/>
<text x="990.61" y="979.8" font-size="6.5" text-anchor="middle" font-weight="bold" fill="#333" >3</text>
<ellipse cx="964.91" cy="988.7" rx="3.1" ry="4.2" fill="none" stroke="#333" stroke-width="1.5"/>
<ellipse cx="972.31" cy="988.7" rx="3.1" ry="4.2" fill="none" stroke="#333" stroke-width="1.5"/>
<ellipse cx="979.11" cy="988.7" rx="3.1" ry="4.2" fill="none" stroke="#333" stroke-width="1.5"/>
<text x="990.61" y="991.2" font-size="6.5" text-anchor="middle" font-weight="bold" fill="#333" >4</text>
<text x="965.41" y="873.5" font-size="6.4" font-weight="bold" fill="#333" transform="rotate(-90 965.41 873.5)" textLength="14.5" lengthAdjust="spacingAndGlyphs">LINK</text>
<text x="975.11" y="873.5" font-size="6.4" font-weight="bold" fill="#333" transform="rotate(-90 975.11 873.5)" textLength="20" lengthAdjust="spacingAndGlyphs">100Mb</text>
<text x="984.71" y="873.5" font-size="6.4" font-weight="bold" fill="#333" transform="rotate(-90 984.71 873.5)" textLength="30.5" lengthAdjust="spacingAndGlyphs">ACTIVITY</text>
<circle cx="1024.58" cy="624.2" r="5.8" fill="none" stroke="#333" stroke-width="1.9"/>
<circle cx="1024.58" cy="1084.1" r="6" fill="none" stroke="#333" stroke-width="1.9"/>
<rect x="1008.48" y="878" width="23.9" height="24.6" rx="1.5" fill="none" stroke="#333" stroke-width="1.8"/>
<ellipse cx="1012.48" cy="883.9" rx="3.1" ry="4.2" fill="none" stroke="#333" stroke-width="1.5"/>
<ellipse cx="1019.88" cy="883.9" rx="3.1" ry="4.2" fill="none" stroke="#333" stroke-width="1.5"/>
<ellipse cx="1026.68" cy="883.9" rx="3.1" ry="4.2" fill="none" stroke="#333" stroke-width="1.5"/>
<text x="1038.18" y="886.4" font-size="6.5" text-anchor="middle" font-weight="bold" fill="#333" >1</text>
<ellipse cx="1012.48" cy="895.3" rx="3.1" ry="4.2" fill="none" stroke="#333" stroke-width="1.5"/>
<ellipse cx="1019.88" cy="895.3" rx="3.1" ry="4.2" fill="none" stroke="#333" stroke-width="1.5"/>
<ellipse cx="1026.68" cy="895.3" rx="3.1" ry="4.2" fill="none" stroke="#333" stroke-width="1.5"/>
<text x="1038.18" y="897.8" font-size="6.5" text-anchor="middle" font-weight="bold" fill="#333" >2</text>
<rect x="1008.48" y="948.6" width="23.9" height="47.4" rx="1.5" fill="none" stroke="#333" stroke-width="1.8"/>
<ellipse cx="1012.48" cy="954.5" rx="3.1" ry="4.2" fill="none" stroke="#333" stroke-width="1.5"/>
<ellipse cx="1019.88" cy="954.5" rx="3.1" ry="4.2" fill="none" stroke="#333" stroke-width="1.5"/>
<ellipse cx="1026.68" cy="954.5" rx="3.1" ry="4.2" fill="none" stroke="#333" stroke-width="1.5"/>
<text x="1038.18" y="957" font-size="6.5" text-anchor="middle" font-weight="bold" fill="#333" >1</text>
<ellipse cx="1012.48" cy="965.9" rx="3.1" ry="4.2" fill="none" stroke="#333" stroke-width="1.5"/>
<ellipse cx="1019.88" cy="965.9" rx="3.1" ry="4.2" fill="none" stroke="#333" stroke-width="1.5"/>
<ellipse cx="1026.68" cy="965.9" rx="3.1" ry="4.2" fill="none" stroke="#333" stroke-width="1.5"/>
<text x="1038.18" y="968.4" font-size="6.5" text-anchor="middle" font-weight="bold" fill="#333" >2</text>
<ellipse cx="1012.48" cy="977.3" rx="3.1" ry="4.2" fill="none" stroke="#333" stroke-width="1.5"/>
<ellipse cx="1019.88" cy="977.3" rx="3.1" ry="4.2" fill="none" stroke="#333" stroke-width="1.5"/>
<ellipse cx="1026.68" cy="977.3" rx="3.1" ry="4.2" fill="none" stroke="#333" stroke-width="1.5"/>
<text x="1038.18" y="979.8" font-size="6.5" text-anchor="middle" font-weight="bold" fill="#333" >3</text>
<ellipse cx="1012.48" cy="988.7" rx="3.1" ry="4.2" fill="none" stroke="#333" stroke-width="1.5"/>
<ellipse cx="1019.88" cy="988.7" rx="3.1" ry="4.2" fill="none" stroke="#333" stroke-width="1.5"/>
<ellipse cx="1026.68" cy="988.7" rx="3.1" ry="4.2" fill="none" stroke="#333" stroke-width="1.5"/>
<text x="1038.18" y="991.2" font-size="6.5" text-anchor="middle" font-weight="bold" fill="#333" >4</text>
<text x="1012.98" y="873.5" font-size="6.4" font-weight="bold" fill="#333" transform="rotate(-90 1012.98 873.5)" textLength="14.5" lengthAdjust="spacingAndGlyphs">LINK</text>
<text x="1022.68" y="873.5" font-size="6.4" font-weight="bold" fill="#333" transform="rotate(-90 1022.68 873.5)" textLength="20" lengthAdjust="spacingAndGlyphs">100Mb</text>
<text x="1032.28" y="873.5" font-size="6.4" font-weight="bold" fill="#333" transform="rotate(-90 1032.28 873.5)" textLength="30.5" lengthAdjust="spacingAndGlyphs">ACTIVITY</text>
<circle cx="1072.15" cy="624.2" r="5.8" fill="none" stroke="#333" stroke-width="1.9"/>
<circle cx="1072.15" cy="1084.1" r="6" fill="none" stroke="#333" stroke-width="1.9"/>
<rect x="1056.05" y="878" width="23.9" height="24.6" rx="1.5" fill="none" stroke="#333" stroke-width="1.8"/>
<ellipse cx="1060.05" cy="883.9" rx="3.1" ry="4.2" fill="none" stroke="#333" stroke-width="1.5"/>
<ellipse cx="1067.45" cy="883.9" rx="3.1" ry="4.2" fill="none" stroke="#333" stroke-width="1.5"/>
<ellipse cx="1074.25" cy="883.9" rx="3.1" ry="4.2" fill="none" stroke="#333" stroke-width="1.5"/>
<text x="1085.75" y="886.4" font-size="6.5" text-anchor="middle" font-weight="bold" fill="#333" >1</text>
<ellipse cx="1060.05" cy="895.3" rx="3.1" ry="4.2" fill="none" stroke="#333" stroke-width="1.5"/>
<ellipse cx="1067.45" cy="895.3" rx="3.1" ry="4.2" fill="none" stroke="#333" stroke-width="1.5"/>
<ellipse cx="1074.25" cy="895.3" rx="3.1" ry="4.2" fill="none" stroke="#333" stroke-width="1.5"/>
<text x="1085.75" y="897.8" font-size="6.5" text-anchor="middle" font-weight="bold" fill="#333" >2</text>
<rect x="1056.05" y="948.6" width="23.9" height="47.4" rx="1.5" fill="none" stroke="#333" stroke-width="1.8"/>
<ellipse cx="1060.05" cy="954.5" rx="3.1" ry="4.2" fill="none" stroke="#333" stroke-width="1.5"/>
<ellipse cx="1067.45" cy="954.5" rx="3.1" ry="4.2" fill="none" stroke="#333" stroke-width="1.5"/>
<ellipse cx="1074.25" cy="954.5" rx="3.1" ry="4.2" fill="none" stroke="#333" stroke-width="1.5"/>
<text x="1085.75" y="957" font-size="6.5" text-anchor="middle" font-weight="bold" fill="#333" >1</text>
<ellipse cx="1060.05" cy="965.9" rx="3.1" ry="4.2" fill="none" stroke="#333" stroke-width="1.5"/>
<ellipse cx="1067.45" cy="965.9" rx="3.1" ry="4.2" fill="none" stroke="#333" stroke-width="1.5"/>
<ellipse cx="1074.25" cy="965.9" rx="3.1" ry="4.2" fill="none" stroke="#333" stroke-width="1.5"/>
<text x="1085.75" y="968.4" font-size="6.5" text-anchor="middle" font-weight="bold" fill="#333" >2</text>
<ellipse cx="1060.05" cy="977.3" rx="3.1" ry="4.2" fill="none" stroke="#333" stroke-width="1.5"/>
<ellipse cx="1067.45" cy="977.3" rx="3.1" ry="4.2" fill="none" stroke="#333" stroke-width="1.5"/>
<ellipse cx="1074.25" cy="977.3" rx="3.1" ry="4.2" fill="none" stroke="#333" stroke-width="1.5"/>
<text x="1085.75" y="979.8" font-size="6.5" text-anchor="middle" font-weight="bold" fill="#333" >3</text>
<ellipse cx="1060.05" cy="988.7" rx="3.1" ry="4.2" fill="none" stroke="#333" stroke-width="1.5"/>
<ellipse cx="1067.45" cy="988.7" rx="3.1" ry="4.2" fill="none" stroke="#333" stroke-width="1.5"/>
<ellipse cx="1074.25" cy="988.7" rx="3.1" ry="4.2" fill="none" stroke="#333" stroke-width="1.5"/>
<text x="1085.75" y="991.2" font-size="6.5" text-anchor="middle" font-weight="bold" fill="#333" >4</text>
<text x="1060.55" y="873.5" font-size="6.4" font-weight="bold" fill="#333" transform="rotate(-90 1060.55 873.5)" textLength="14.5" lengthAdjust="spacingAndGlyphs">LINK</text>
<text x="1070.25" y="873.5" font-size="6.4" font-weight="bold" fill="#333" transform="rotate(-90 1070.25 873.5)" textLength="20" lengthAdjust="spacingAndGlyphs">100Mb</text>
<text x="1079.85" y="873.5" font-size="6.4" font-weight="bold" fill="#333" transform="rotate(-90 1079.85 873.5)" textLength="30.5" lengthAdjust="spacingAndGlyphs">ACTIVITY</text>
<rect x="630.4" y="613.3" width="31.3" height="39.1" rx="0" fill="none" stroke="#333" stroke-width="2.2"/>
<path d="M633.4,619.3 L633.4,647.4 L657.7,647.4 L657.7,617.3 L638.9,617.3 L638.9,619.3 Z" fill="none" stroke="#333" stroke-width="1.6" stroke-linejoin="miter" stroke-linecap="butt"/>
<line x1="655.2" y1="618.3" x2="655.2" y2="646.4" stroke="#333" stroke-width="1.4" stroke-linecap="butt"/>
<rect x="634.4" y="640.4" width="4.5" height="6" rx="0" fill="none" stroke="#333" stroke-width="1.3"/>
<rect x="630.4" y="656.6" width="31.3" height="38.7" rx="0" fill="none" stroke="#333" stroke-width="2.2"/>
<path d="M633.4,662.6 L633.4,690.3 L657.7,690.3 L657.7,660.6 L638.9,660.6 L638.9,662.6 Z" fill="none" stroke="#333" stroke-width="1.6" stroke-linejoin="miter" stroke-linecap="butt"/>
<line x1="655.2" y1="661.6" x2="655.2" y2="689.3" stroke="#333" stroke-width="1.4" stroke-linecap="butt"/>
<rect x="634.4" y="683.3" width="4.5" height="6" rx="0" fill="none" stroke="#333" stroke-width="1.3"/>
<text x="625.5" y="624" font-size="6.5" text-anchor="middle" font-weight="bold" fill="#333" transform="rotate(90 627.5 622)">N</text>
<text x="625.5" y="630.7" font-size="6.5" text-anchor="middle" font-weight="bold" fill="#333" transform="rotate(90 627.5 628.7)">E</text>
<text x="625.5" y="637.4" font-size="6.5" text-anchor="middle" font-weight="bold" fill="#333" transform="rotate(90 627.5 635.4)">T</text>
<text x="625.5" y="644.1" font-size="6.5" text-anchor="middle" font-weight="bold" fill="#333" transform="rotate(90 627.5 642.1)">1</text>
<text x="625.5" y="667" font-size="6.5" text-anchor="middle" font-weight="bold" fill="#333" transform="rotate(90 627.5 665)">N</text>
<text x="625.5" y="673.7" font-size="6.5" text-anchor="middle" font-weight="bold" fill="#333" transform="rotate(90 627.5 671.7)">E</text>
<text x="625.5" y="680.4" font-size="6.5" text-anchor="middle" font-weight="bold" fill="#333" transform="rotate(90 627.5 678.4)">T</text>
<text x="625.5" y="687.1" font-size="6.5" text-anchor="middle" font-weight="bold" fill="#333" transform="rotate(90 627.5 685.1)">2</text>
<circle cx="646.9" cy="704.4" r="6" fill="none" stroke="#333" stroke-width="2.4"/>
<circle cx="646.9" cy="704.4" r="2.52" fill="none" stroke="#333" stroke-width="1.4"/>
<circle cx="646.9" cy="761.9" r="6" fill="none" stroke="#333" stroke-width="2.4"/>
<circle cx="646.9" cy="761.9" r="2.52" fill="none" stroke="#333" stroke-width="1.4"/>
<path d="M637.5,713.5 Q646,709.5 656.5,712 Q659,713 659,716 L659,751 Q659,754 656.5,755 Q646,757 637.5,753.5 Q635.3,752.5 635.3,749 L635.3,717 Q635.3,714.5 637.5,713.5 Z" fill="none" stroke="#333" stroke-width="2.8" stroke-linejoin="miter" stroke-linecap="butt"/>
<circle cx="642" cy="722.5" r="1.5" fill="#999" stroke="#333" stroke-width="1.2"/>
<circle cx="642" cy="729.5" r="1.5" fill="#999" stroke="#333" stroke-width="1.2"/>
<circle cx="642" cy="736.5" r="1.5" fill="#999" stroke="#333" stroke-width="1.2"/>
<circle cx="642" cy="743.5" r="1.5" fill="#999" stroke="#333" stroke-width="1.2"/>
<circle cx="651.5" cy="719.5" r="1.5" fill="#999" stroke="#333" stroke-width="1.2"/>
<circle cx="651.5" cy="726.5" r="1.5" fill="#999" stroke="#333" stroke-width="1.2"/>
<circle cx="651.5" cy="733.5" r="1.5" fill="#999" stroke="#333" stroke-width="1.2"/>
<circle cx="651.5" cy="740.5" r="1.5" fill="#999" stroke="#333" stroke-width="1.2"/>
<circle cx="651.5" cy="747.5" r="1.5" fill="#999" stroke="#333" stroke-width="1.2"/>
<text x="663.5" y="717" font-size="6" text-anchor="middle" font-weight="bold" fill="#333" transform="rotate(90 663.5 715)">C</text>
<text x="663.5" y="724" font-size="6" text-anchor="middle" font-weight="bold" fill="#333" transform="rotate(90 663.5 722)">O</text>
<text x="663.5" y="731" font-size="6" text-anchor="middle" font-weight="bold" fill="#333" transform="rotate(90 663.5 729)">M</text>
<text x="663.5" y="738" font-size="6" text-anchor="middle" font-weight="bold" fill="#333" transform="rotate(90 663.5 736)">1</text>
<rect x="628.1" y="779.7" width="30.7" height="165" rx="4" fill="none" stroke="#333" stroke-width="1.8"/>
<rect x="634.4" y="787.1" width="18.7" height="147.4" rx="6" fill="none" stroke="#333" stroke-width="2.6"/>
<circle cx="644" cy="793.9" r="4.2" fill="none" stroke="#333" stroke-width="2.4"/>
<circle cx="644" cy="793.9" r="1.76" fill="none" stroke="#333" stroke-width="1.4"/>
<circle cx="644" cy="927.1" r="4.2" fill="none" stroke="#333" stroke-width="2.4"/>
<circle cx="644" cy="927.1" r="1.76" fill="none" stroke="#333" stroke-width="1.4"/>
<line x1="634.4" y1="801" x2="653.1" y2="801" stroke="#333" stroke-width="1.4" stroke-linecap="butt"/>
<line x1="634.4" y1="920" x2="653.1" y2="920" stroke="#333" stroke-width="1.4" stroke-linecap="butt"/>
<path d="M638.9,806.4 L649.1,806.4 L649.1,809 L641.5,811 L641.5,909 L649.1,911 L649.1,913.4 L638.9,913.4 Z" fill="none" stroke="#333" stroke-width="1.5" stroke-linejoin="miter" stroke-linecap="butt"/>
<text x="663.5" y="857" font-size="5.5" text-anchor="middle" font-weight="bold" fill="#333" transform="rotate(90 663.5 857)" textLength="14" lengthAdjust="spacingAndGlyphs">SCSI</text>
<circle cx="645.6" cy="960.8" r="5.5" fill="none" stroke="#333" stroke-width="2.4"/>
<circle cx="645.6" cy="960.8" r="2.31" fill="none" stroke="#333" stroke-width="1.4"/>
<circle cx="645.6" cy="1011.8" r="5.5" fill="none" stroke="#333" stroke-width="2.4"/>
<circle cx="645.6" cy="1011.8" r="2.31" fill="none" stroke="#333" stroke-width="1.4"/>
<path d="M637.5,968.5 Q646,964.5 653.5,967 Q655.8,968 655.8,971 L655.8,1001 Q655.8,1004 653.5,1005 Q646,1007 637.5,1003.5 Q635.3,1002.5 635.3,999 L635.3,972 Q635.3,969.5 637.5,968.5 Z" fill="none" stroke="#333" stroke-width="2.6" stroke-linejoin="miter" stroke-linecap="butt"/>
<circle cx="640.5" cy="973" r="1.5" fill="#333"/>
<circle cx="640.5" cy="979.5" r="1.5" fill="#333"/>
<circle cx="640.5" cy="986" r="1.5" fill="#333"/>
<circle cx="640.5" cy="992.5" r="1.5" fill="#333"/>
<circle cx="640.5" cy="999" r="1.5" fill="#333"/>
<circle cx="645.6" cy="973" r="1.5" fill="#333"/>
<circle cx="645.6" cy="979.5" r="1.5" fill="#333"/>
<circle cx="645.6" cy="986" r="1.5" fill="#333"/>
<circle cx="645.6" cy="992.5" r="1.5" fill="#333"/>
<circle cx="645.6" cy="999" r="1.5" fill="#333"/>
<circle cx="650.5" cy="973" r="1.5" fill="#333"/>
<circle cx="650.5" cy="979.5" r="1.5" fill="#333"/>
<circle cx="650.5" cy="986" r="1.5" fill="#333"/>
<circle cx="650.5" cy="992.5" r="1.5" fill="#333"/>
<circle cx="650.5" cy="999" r="1.5" fill="#333"/>
<text x="660.5" y="969" font-size="6" text-anchor="middle" font-weight="bold" fill="#333" >V</text>
<text x="660.5" y="976.5" font-size="6" text-anchor="middle" font-weight="bold" fill="#333" >I</text>
<text x="660.5" y="984" font-size="6" text-anchor="middle" font-weight="bold" fill="#333" >D</text>
<text x="660.5" y="991.5" font-size="6" text-anchor="middle" font-weight="bold" fill="#333" >E</text>
<text x="660.5" y="999" font-size="6" text-anchor="middle" font-weight="bold" fill="#333" >O</text>
<circle cx="642.6" cy="1035.8" r="11.5" fill="none" stroke="#333" stroke-width="4.0"/>
<circle cx="638.1" cy="1032.8" r="1.3" fill="#333"/>
<circle cx="637.6" cy="1038.3" r="1.3" fill="#333"/>
<circle cx="641.1" cy="1042.3" r="1.3" fill="#333"/>
<circle cx="646.1" cy="1040.8" r="1.3" fill="#333"/>
<circle cx="647.1" cy="1033.8" r="1.3" fill="#333"/>
<circle cx="641.6" cy="1029.8" r="1.3" fill="#333"/>
<circle cx="643.1" cy="1036.3" r="1.3" fill="#333"/>
<text x="627.5" y="1029" font-size="6" text-anchor="middle" font-weight="bold" fill="#333" >K</text>
<text x="627.5" y="1036" font-size="6" text-anchor="middle" font-weight="bold" fill="#333" >B</text>
<text x="627.5" y="1043" font-size="6" text-anchor="middle" font-weight="bold" fill="#333" >D</text>
<text x="661" y="1024" font-size="6" text-anchor="middle" font-weight="bold" fill="#333" >M</text>
<text x="661" y="1030.6" font-size="6" text-anchor="middle" font-weight="bold" fill="#333" >O</text>
<text x="661" y="1037.2" font-size="6" text-anchor="middle" font-weight="bold" fill="#333" >U</text>
<text x="661" y="1043.8" font-size="6" text-anchor="middle" font-weight="bold" fill="#333" >S</text>
<text x="661" y="1050.4" font-size="6" text-anchor="middle" font-weight="bold" fill="#333" >E</text>
<text x="638.7" y="1061" font-size="7" text-anchor="middle" font-weight="bold" fill="#333" textLength="20" lengthAdjust="spacingAndGlyphs">RESET</text>
<circle cx="637.8" cy="1067.5" r="4.2" fill="none" stroke="#333" stroke-width="1.8"/>
<circle cx="637.8" cy="1087.3" r="4" fill="none" stroke="#333" stroke-width="1.8"/>
<circle cx="652.8" cy="1087.3" r="4" fill="none" stroke="#333" stroke-width="1.8"/>
<text x="645" y="1095" font-size="3.5" text-anchor="middle" font-weight="bold" fill="#333" textLength="25" lengthAdjust="spacingAndGlyphs">PWR/HDD/TMP</text>
<rect x="772.6" y="673.6" width="3.8" height="10" rx="1" fill="none" stroke="#333" stroke-width="1.6"/>
<text x="778.9" y="681.3" font-size="5.6" text-anchor="start" font-weight="bold" fill="#333" textLength="23" lengthAdjust="spacingAndGlyphs">PWR ON</text>
<rect x="772.6" y="694.8" width="3.8" height="10" rx="1" fill="none" stroke="#333" stroke-width="1.6"/>
<text x="778.9" y="702.5" font-size="5.6" text-anchor="start" font-weight="bold" fill="#333" textLength="25" lengthAdjust="spacingAndGlyphs">PWR OFF</text>
<circle cx="1125.7" cy="378.8" r="10" fill="none" stroke="#333" stroke-width="1.8"/>
<line x1="1118.9" y1="378.8" x2="1132.5" y2="378.8" stroke="#3a3a3a" stroke-width="5.0" stroke-linecap="butt"/>
<line x1="1125.7" y1="372" x2="1125.7" y2="385.6" stroke="#3a3a3a" stroke-width="5.0" stroke-linecap="butt"/>
<line x1="1120" y1="378.8" x2="1131.4" y2="378.8" stroke="#aaa" stroke-width="2.0" stroke-linecap="butt"/>
<line x1="1125.7" y1="373.1" x2="1125.7" y2="384.5" stroke="#aaa" stroke-width="2.0" stroke-linecap="butt"/>
<circle cx="1329.9" cy="378.8" r="10" fill="none" stroke="#333" stroke-width="1.8"/>
<line x1="1323.1" y1="378.8" x2="1336.7" y2="378.8" stroke="#3a3a3a" stroke-width="5.0" stroke-linecap="butt"/>
<line x1="1329.9" y1="372" x2="1329.9" y2="385.6" stroke="#3a3a3a" stroke-width="5.0" stroke-linecap="butt"/>
<line x1="1324.2" y1="378.8" x2="1335.6" y2="378.8" stroke="#aaa" stroke-width="2.0" stroke-linecap="butt"/>
<line x1="1329.9" y1="373.1" x2="1329.9" y2="384.5" stroke="#aaa" stroke-width="2.0" stroke-linecap="butt"/>
<circle cx="1125.7" cy="1192.5" r="9.9" fill="none" stroke="#333" stroke-width="1.8"/>
<line x1="1118.97" y1="1192.5" x2="1132.43" y2="1192.5" stroke="#3a3a3a" stroke-width="4.95" stroke-linecap="butt"/>
<line x1="1125.7" y1="1185.77" x2="1125.7" y2="1199.23" stroke="#3a3a3a" stroke-width="4.95" stroke-linecap="butt"/>
<line x1="1120.07" y1="1192.5" x2="1131.33" y2="1192.5" stroke="#aaa" stroke-width="1.9800000000000002" stroke-linecap="butt"/>
<line x1="1125.7" y1="1186.87" x2="1125.7" y2="1198.13" stroke="#aaa" stroke-width="1.9800000000000002" stroke-linecap="butt"/>
<circle cx="1330.1" cy="1192.5" r="9.9" fill="none" stroke="#333" stroke-width="1.8"/>
<line x1="1323.37" y1="1192.5" x2="1336.83" y2="1192.5" stroke="#3a3a3a" stroke-width="4.95" stroke-linecap="butt"/>
<line x1="1330.1" y1="1185.77" x2="1330.1" y2="1199.23" stroke="#3a3a3a" stroke-width="4.95" stroke-linecap="butt"/>
<line x1="1324.47" y1="1192.5" x2="1335.73" y2="1192.5" stroke="#aaa" stroke-width="1.9800000000000002" stroke-linecap="butt"/>
<line x1="1330.1" y1="1186.87" x2="1330.1" y2="1198.13" stroke="#aaa" stroke-width="1.9800000000000002" stroke-linecap="butt"/>
<circle cx="1253.2" cy="392.6" r="7.4" fill="none" stroke="#333" stroke-width="1.8"/>
<rect x="1120.7" y="410.5" width="103.5" height="353.2" rx="7" fill="none" stroke="#333" stroke-width="2.0"/>
<rect x="1234.7" y="410.5" width="104.4" height="353.2" rx="7" fill="none" stroke="#333" stroke-width="2.0"/>
<rect x="1134.6" y="433.6" width="46.8" height="310.6" rx="0" fill="none" stroke="#333" stroke-width="2.0"/>
<circle cx="1194" cy="442.4" r="2.8" fill="none" stroke="#333" stroke-width="1.4"/>
<rect x="1195.3" y="458.6" width="12.4" height="27.9" rx="0" fill="none" stroke="#333" stroke-width="1.7"/>
<rect x="1200.3" y="505.8" width="5.4" height="11.6" rx="0" fill="none" stroke="#333" stroke-width="1.6"/>
<circle cx="1270.6" cy="438.6" r="15" fill="none" stroke="#333" stroke-width="1.9"/>
<rect x="1269" y="415.8" width="3.4" height="28.5" rx="0" fill="#333"/>
<rect x="1316.2" y="424" width="4.6" height="66.8" rx="0" fill="#fff" stroke="#333" stroke-width="1.5"/>
<rect x="1322.4" y="424" width="4.8" height="71.6" rx="0" fill="#fff" stroke="#333" stroke-width="1.5"/>
<rect x="1329.4" y="424" width="4.6" height="75.6" rx="0" fill="#fff" stroke="#333" stroke-width="1.5"/>
<rect x="1293.4" y="432" width="38.1" height="22.3" rx="0" fill="#fff" stroke="#333" stroke-width="1.8"/>
<rect x="1297.5" y="437.5" width="11.5" height="3" rx="0" fill="#888" stroke="#333" stroke-width="1.4"/>
<rect x="1313.5" y="437.5" width="11.5" height="3" rx="0" fill="#888" stroke="#333" stroke-width="1.4"/>
<path d="M1286.4,497.2 L1310.7,497.2 Q1328.7,497.2 1328.7,515.2 L1328.7,667.4 Q1328.7,685.4 1310.7,685.4 L1286.4,685.4" fill="none" stroke="#333" stroke-width="1.9" stroke-linejoin="miter" stroke-linecap="butt"/>
<rect x="1248" y="467.7" width="38.4" height="242" rx="5" fill="none" stroke="#333" stroke-width="1.9"/>
<rect x="1256.1" y="478.8" width="2.8" height="221.9" rx="1" fill="#777" stroke="#333" stroke-width="1.3"/>
<rect x="1264.6" y="478.8" width="2.8" height="221.9" rx="1" fill="#777" stroke="#333" stroke-width="1.3"/>
<rect x="1272.5" y="478.8" width="2.8" height="221.9" rx="1" fill="#777" stroke="#333" stroke-width="1.3"/>
<rect x="1289" y="713.3" width="14.8" height="8.1" rx="0" fill="none" stroke="#333" stroke-width="1.7"/>
<rect x="1283.7" y="730.4" width="28.4" height="27.9" rx="0" fill="none" stroke="#333" stroke-width="1.8"/>
<rect x="1316" y="689.9" width="4.6" height="67.5" rx="0" fill="#fff" stroke="#333" stroke-width="1.5"/>
<rect x="1322.4" y="684.5" width="4.8" height="72.9" rx="0" fill="#fff" stroke="#333" stroke-width="1.5"/>
<rect x="1329.6" y="680" width="4.4" height="77.4" rx="0" fill="#fff" stroke="#333" stroke-width="1.5"/>
<rect x="1120.7" y="815" width="103.5" height="353.2" rx="7" fill="none" stroke="#333" stroke-width="2.0"/>
<rect x="1234.7" y="815" width="104.4" height="353.2" rx="7" fill="none" stroke="#333" stroke-width="2.0"/>
<circle cx="1270.6" cy="843.1" r="15" fill="none" stroke="#333" stroke-width="1.9"/>
<rect x="1269" y="837" width="3.4" height="28" rx="0" fill="#fff"/>
<rect x="1269" y="837" width="3.4" height="28" rx="0" fill="#777" stroke="#333" stroke-width="1.4"/>
<rect x="1316.2" y="828.5" width="4.6" height="66.8" rx="0" fill="#fff" stroke="#333" stroke-width="1.5"/>
<rect x="1322.4" y="828.5" width="4.8" height="71.6" rx="0" fill="#fff" stroke="#333" stroke-width="1.5"/>
<rect x="1329.4" y="828.5" width="4.6" height="75.6" rx="0" fill="#fff" stroke="#333" stroke-width="1.5"/>
<rect x="1293.4" y="836.5" width="38.1" height="22.3" rx="0" fill="#fff" stroke="#333" stroke-width="1.8"/>
<rect x="1297.5" y="842" width="11.5" height="3" rx="0" fill="#888" stroke="#333" stroke-width="1.4"/>
<rect x="1313.5" y="842" width="11.5" height="3" rx="0" fill="#888" stroke="#333" stroke-width="1.4"/>
<path d="M1286.4,901.7 L1310.7,901.7 Q1328.7,901.7 1328.7,919.7 L1328.7,1071.9 Q1328.7,1089.9 1310.7,1089.9 L1286.4,1089.9" fill="none" stroke="#333" stroke-width="1.9" stroke-linejoin="miter" stroke-linecap="butt"/>
<rect x="1248" y="872.2" width="38.4" height="242" rx="5" fill="none" stroke="#333" stroke-width="1.9"/>
<rect x="1256.1" y="883.3" width="2.8" height="221.9" rx="1" fill="#777" stroke="#333" stroke-width="1.3"/>
<rect x="1264.6" y="883.3" width="2.8" height="221.9" rx="1" fill="#777" stroke="#333" stroke-width="1.3"/>
<rect x="1289" y="1117.8" width="14.8" height="8.1" rx="0" fill="none" stroke="#333" stroke-width="1.7"/>
<rect x="1283.7" y="1134.9" width="28.4" height="27.9" rx="0" fill="none" stroke="#333" stroke-width="1.8"/>
<rect x="1316" y="1094.4" width="4.6" height="67.5" rx="0" fill="#fff" stroke="#333" stroke-width="1.5"/>
<rect x="1322.4" y="1089" width="4.8" height="72.9" rx="0" fill="#fff" stroke="#333" stroke-width="1.5"/>
<rect x="1329.6" y="1084.5" width="4.4" height="77.4" rx="0" fill="#fff" stroke="#333" stroke-width="1.5"/>
<path d="M360.6,1253.4 L446.4,1253.4 L446.4,1233.2 L634.6,1233.2 L633.7,1507.6 L360.8,1507.6 Z" fill="#858585" stroke="#333" stroke-width="2.0" stroke-linejoin="miter" stroke-linecap="butt"/>
<polyline points="340.5,1224 340.5,1528.8 645,1528.8 645,1440" fill="none" stroke="#333" stroke-width="2.0" stroke-linejoin="miter"/>
<polyline points="351.3,1224 351.3,1515.6 641,1515.6 641,1440" fill="none" stroke="#333" stroke-width="2.0" stroke-linejoin="miter"/>
<line x1="340.5" y1="1224" x2="351.3" y2="1224" stroke="#333" stroke-width="2.0" stroke-linecap="butt"/>
<rect x="334.5" y="1419.5" width="313.1" height="14.7" rx="0" fill="#fff" stroke="#333" stroke-width="2.0"/>
<line x1="333.7" y1="1440.5" x2="333.7" y2="1585" stroke="#333" stroke-width="2.0" stroke-linecap="butt"/>
<path d="M349,1534 L635,1534 Q643.2,1534 643.2,1542 L643.2,1580 Q643.2,1588 635,1588 L510,1588 Q504.7,1588 504.7,1582 L504.7,1574 Q504.7,1569.5 500,1569.5 L482,1569.5 Q477.4,1569.5 477.4,1574 L477.4,1582 Q477.4,1588 472,1588 L349,1588 Q341,1588 341,1580 L341,1542 Q341,1534 349,1534 Z" fill="none" stroke="#333" stroke-width="2.0" stroke-linejoin="miter" stroke-linecap="butt"/>
<text x="491" y="1582" font-size="12" text-anchor="middle" font-weight="bold" fill="#333" >1</text>
<circle cx="393.7" cy="1575.3" r="8.4" fill="none" stroke="#333" stroke-width="1.8"/>
<line x1="387.99" y1="1575.3" x2="399.41" y2="1575.3" stroke="#3a3a3a" stroke-width="4.2" stroke-linecap="butt"/>
<line x1="393.7" y1="1569.59" x2="393.7" y2="1581.01" stroke="#3a3a3a" stroke-width="4.2" stroke-linecap="butt"/>
<line x1="389.09" y1="1575.3" x2="398.31" y2="1575.3" stroke="#aaa" stroke-width="1.6800000000000002" stroke-linecap="butt"/>
<line x1="393.7" y1="1570.69" x2="393.7" y2="1579.91" stroke="#aaa" stroke-width="1.6800000000000002" stroke-linecap="butt"/>
<circle cx="588.4" cy="1575.3" r="8.4" fill="none" stroke="#333" stroke-width="1.8"/>
<line x1="582.69" y1="1575.3" x2="594.11" y2="1575.3" stroke="#3a3a3a" stroke-width="4.2" stroke-linecap="butt"/>
<line x1="588.4" y1="1569.59" x2="588.4" y2="1581.01" stroke="#3a3a3a" stroke-width="4.2" stroke-linecap="butt"/>
<line x1="583.79" y1="1575.3" x2="593.01" y2="1575.3" stroke="#aaa" stroke-width="1.6800000000000002" stroke-linecap="butt"/>
<line x1="588.4" y1="1570.69" x2="588.4" y2="1579.91" stroke="#aaa" stroke-width="1.6800000000000002" stroke-linecap="butt"/>
<polyline points="395,1561.6 395,1541.8 408.2,1541.8" fill="none" stroke="#333" stroke-width="1.8" stroke-linejoin="miter"/>
<polyline points="472.6,1541.8 485.3,1541.8 485.3,1563.7" fill="none" stroke="#333" stroke-width="1.8" stroke-linejoin="miter"/>
<polyline points="497.6,1561.6 497.6,1541.8 510.5,1541.8" fill="none" stroke="#333" stroke-width="1.8" stroke-linejoin="miter"/>
<polyline points="574.9,1541.8 587.1,1541.8 587.1,1563.7" fill="none" stroke="#333" stroke-width="1.8" stroke-linejoin="miter"/>
<circle cx="413.4" cy="1542.4" r="2.3" fill="#333"/>
<circle cx="466.8" cy="1542.4" r="2.3" fill="#333"/>
<circle cx="516" cy="1542.4" r="2.3" fill="#333"/>
<circle cx="569.5" cy="1542.4" r="2.3" fill="#333"/>
<text x="439.7" y="1544.3" font-size="5.6" text-anchor="middle" font-weight="bold" fill="#333" textLength="23" lengthAdjust="spacingAndGlyphs">POWER</text>
<text x="541" y="1544.3" font-size="5.6" text-anchor="middle" font-weight="bold" fill="#333" textLength="13" lengthAdjust="spacingAndGlyphs">FAN</text>
<text x="402.9" y="1554.2" font-size="5.6" text-anchor="start" font-weight="bold" fill="#333" textLength="6" lengthAdjust="spacingAndGlyphs">IN</text>
<text x="402.9" y="1564.3" font-size="5.6" text-anchor="start" font-weight="bold" fill="#333" textLength="27.5" lengthAdjust="spacingAndGlyphs">SERVICE</text>
<text x="505.5" y="1554.2" font-size="5.6" text-anchor="start" font-weight="bold" fill="#333" textLength="6" lengthAdjust="spacingAndGlyphs">IN</text>
<text x="505.5" y="1564.3" font-size="5.6" text-anchor="start" font-weight="bold" fill="#333" textLength="27.5" lengthAdjust="spacingAndGlyphs">SERVICE</text>
<text x="481.3" y="1554.2" font-size="5.6" text-anchor="end" font-weight="bold" fill="#333" textLength="25" lengthAdjust="spacingAndGlyphs">OUT OF</text>
<text x="481.3" y="1564.3" font-size="5.6" text-anchor="end" font-weight="bold" fill="#333" textLength="27.5" lengthAdjust="spacingAndGlyphs">SERVICE</text>
<text x="583.3" y="1554.2" font-size="5.6" text-anchor="end" font-weight="bold" fill="#333" textLength="25" lengthAdjust="spacingAndGlyphs">OUT OF</text>
<text x="583.3" y="1564.3" font-size="5.6" text-anchor="end" font-weight="bold" fill="#333" textLength="27.5" lengthAdjust="spacingAndGlyphs">SERVICE</text>
<text x="625.3" y="1549.3" font-size="12.8" text-anchor="middle" font-weight="bold" fill="#333" >AC</text>
<path d="M614,1556.5 Q619,1551.5 625,1555 Q631,1558.5 636,1554.5" fill="none" stroke="#333" stroke-width="1.6" stroke-linejoin="miter" stroke-linecap="butt"/>
<path d="M677.6,1253.4 L763.4,1253.4 L763.4,1233.2 L951.6,1233.2 L950.7,1507.6 L677.8,1507.6 Z" fill="#858585" stroke="#333" stroke-width="2.0" stroke-linejoin="miter" stroke-linecap="butt"/>
<polyline points="657.5,1224 657.5,1528.8 962,1528.8 962,1440" fill="none" stroke="#333" stroke-width="2.0" stroke-linejoin="miter"/>
<polyline points="668.3,1224 668.3,1515.6 958,1515.6 958,1440" fill="none" stroke="#333" stroke-width="2.0" stroke-linejoin="miter"/>
<line x1="657.5" y1="1224" x2="668.3" y2="1224" stroke="#333" stroke-width="2.0" stroke-linecap="butt"/>
<rect x="651.5" y="1419.5" width="313.1" height="14.7" rx="0" fill="#fff" stroke="#333" stroke-width="2.0"/>
<line x1="651.2" y1="1440.5" x2="651.2" y2="1585" stroke="#333" stroke-width="2.0" stroke-linecap="butt"/>
<path d="M666,1534 L952,1534 Q960.2,1534 960.2,1542 L960.2,1580 Q960.2,1588 952,1588 L827,1588 Q821.7,1588 821.7,1582 L821.7,1574 Q821.7,1569.5 817,1569.5 L799,1569.5 Q794.4,1569.5 794.4,1574 L794.4,1582 Q794.4,1588 789,1588 L666,1588 Q658,1588 658,1580 L658,1542 Q658,1534 666,1534 Z" fill="none" stroke="#333" stroke-width="2.0" stroke-linejoin="miter" stroke-linecap="butt"/>
<text x="808" y="1582" font-size="12" text-anchor="middle" font-weight="bold" fill="#333" >2</text>
<circle cx="710.7" cy="1575.3" r="8.4" fill="none" stroke="#333" stroke-width="1.8"/>
<line x1="704.99" y1="1575.3" x2="716.41" y2="1575.3" stroke="#3a3a3a" stroke-width="4.2" stroke-linecap="butt"/>
<line x1="710.7" y1="1569.59" x2="710.7" y2="1581.01" stroke="#3a3a3a" stroke-width="4.2" stroke-linecap="butt"/>
<line x1="706.09" y1="1575.3" x2="715.31" y2="1575.3" stroke="#aaa" stroke-width="1.6800000000000002" stroke-linecap="butt"/>
<line x1="710.7" y1="1570.69" x2="710.7" y2="1579.91" stroke="#aaa" stroke-width="1.6800000000000002" stroke-linecap="butt"/>
<circle cx="905.4" cy="1575.3" r="8.4" fill="none" stroke="#333" stroke-width="1.8"/>
<line x1="899.69" y1="1575.3" x2="911.11" y2="1575.3" stroke="#3a3a3a" stroke-width="4.2" stroke-linecap="butt"/>
<line x1="905.4" y1="1569.59" x2="905.4" y2="1581.01" stroke="#3a3a3a" stroke-width="4.2" stroke-linecap="butt"/>
<line x1="900.79" y1="1575.3" x2="910.01" y2="1575.3" stroke="#aaa" stroke-width="1.6800000000000002" stroke-linecap="butt"/>
<line x1="905.4" y1="1570.69" x2="905.4" y2="1579.91" stroke="#aaa" stroke-width="1.6800000000000002" stroke-linecap="butt"/>
<polyline points="712,1561.6 712,1541.8 725.2,1541.8" fill="none" stroke="#333" stroke-width="1.8" stroke-linejoin="miter"/>
<polyline points="789.6,1541.8 802.3,1541.8 802.3,1563.7" fill="none" stroke="#333" stroke-width="1.8" stroke-linejoin="miter"/>
<polyline points="814.6,1561.6 814.6,1541.8 827.5,1541.8" fill="none" stroke="#333" stroke-width="1.8" stroke-linejoin="miter"/>
<polyline points="891.9,1541.8 904.1,1541.8 904.1,1563.7" fill="none" stroke="#333" stroke-width="1.8" stroke-linejoin="miter"/>
<circle cx="730.4" cy="1542.4" r="2.3" fill="#333"/>
<circle cx="783.8" cy="1542.4" r="2.3" fill="#333"/>
<circle cx="833" cy="1542.4" r="2.3" fill="#333"/>
<circle cx="886.5" cy="1542.4" r="2.3" fill="#333"/>
<text x="756.7" y="1544.3" font-size="5.6" text-anchor="middle" font-weight="bold" fill="#333" textLength="23" lengthAdjust="spacingAndGlyphs">POWER</text>
<text x="858" y="1544.3" font-size="5.6" text-anchor="middle" font-weight="bold" fill="#333" textLength="13" lengthAdjust="spacingAndGlyphs">FAN</text>
<text x="719.9" y="1554.2" font-size="5.6" text-anchor="start" font-weight="bold" fill="#333" textLength="6" lengthAdjust="spacingAndGlyphs">IN</text>
<text x="719.9" y="1564.3" font-size="5.6" text-anchor="start" font-weight="bold" fill="#333" textLength="27.5" lengthAdjust="spacingAndGlyphs">SERVICE</text>
<text x="822.5" y="1554.2" font-size="5.6" text-anchor="start" font-weight="bold" fill="#333" textLength="6" lengthAdjust="spacingAndGlyphs">IN</text>
<text x="822.5" y="1564.3" font-size="5.6" text-anchor="start" font-weight="bold" fill="#333" textLength="27.5" lengthAdjust="spacingAndGlyphs">SERVICE</text>
<text x="798.3" y="1554.2" font-size="5.6" text-anchor="end" font-weight="bold" fill="#333" textLength="25" lengthAdjust="spacingAndGlyphs">OUT OF</text>
<text x="798.3" y="1564.3" font-size="5.6" text-anchor="end" font-weight="bold" fill="#333" textLength="27.5" lengthAdjust="spacingAndGlyphs">SERVICE</text>
<text x="900.3" y="1554.2" font-size="5.6" text-anchor="end" font-weight="bold" fill="#333" textLength="25" lengthAdjust="spacingAndGlyphs">OUT OF</text>
<text x="900.3" y="1564.3" font-size="5.6" text-anchor="end" font-weight="bold" fill="#333" textLength="27.5" lengthAdjust="spacingAndGlyphs">SERVICE</text>
<text x="942.3" y="1549.3" font-size="12.8" text-anchor="middle" font-weight="bold" fill="#333" >AC</text>
<path d="M931,1556.5 Q936,1551.5 942,1555 Q948,1558.5 953,1554.5" fill="none" stroke="#333" stroke-width="1.6" stroke-linejoin="miter" stroke-linecap="butt"/>
<path d="M994.6,1253.4 L1080.4,1253.4 L1080.4,1233.2 L1268.6,1233.2 L1267.7,1507.6 L994.8,1507.6 Z" fill="#858585" stroke="#333" stroke-width="2.0" stroke-linejoin="miter" stroke-linecap="butt"/>
<polyline points="974.5,1224 974.5,1528.8 1279,1528.8 1279,1440" fill="none" stroke="#333" stroke-width="2.0" stroke-linejoin="miter"/>
<polyline points="985.3,1224 985.3,1515.6 1275,1515.6 1275,1440" fill="none" stroke="#333" stroke-width="2.0" stroke-linejoin="miter"/>
<line x1="974.5" y1="1224" x2="985.3" y2="1224" stroke="#333" stroke-width="2.0" stroke-linecap="butt"/>
<rect x="968.5" y="1419.5" width="313.1" height="14.7" rx="0" fill="#fff" stroke="#333" stroke-width="2.0"/>
<line x1="968.7" y1="1440.5" x2="968.7" y2="1585" stroke="#333" stroke-width="2.0" stroke-linecap="butt"/>
<path d="M983,1534 L1269,1534 Q1277.2,1534 1277.2,1542 L1277.2,1580 Q1277.2,1588 1269,1588 L1144,1588 Q1138.7,1588 1138.7,1582 L1138.7,1574 Q1138.7,1569.5 1134,1569.5 L1116,1569.5 Q1111.4,1569.5 1111.4,1574 L1111.4,1582 Q1111.4,1588 1106,1588 L983,1588 Q975,1588 975,1580 L975,1542 Q975,1534 983,1534 Z" fill="none" stroke="#333" stroke-width="2.0" stroke-linejoin="miter" stroke-linecap="butt"/>
<text x="1125" y="1582" font-size="12" text-anchor="middle" font-weight="bold" fill="#333" >3</text>
<circle cx="1027.7" cy="1575.3" r="8.4" fill="none" stroke="#333" stroke-width="1.8"/>
<line x1="1021.99" y1="1575.3" x2="1033.41" y2="1575.3" stroke="#3a3a3a" stroke-width="4.2" stroke-linecap="butt"/>
<line x1="1027.7" y1="1569.59" x2="1027.7" y2="1581.01" stroke="#3a3a3a" stroke-width="4.2" stroke-linecap="butt"/>
<line x1="1023.09" y1="1575.3" x2="1032.31" y2="1575.3" stroke="#aaa" stroke-width="1.6800000000000002" stroke-linecap="butt"/>
<line x1="1027.7" y1="1570.69" x2="1027.7" y2="1579.91" stroke="#aaa" stroke-width="1.6800000000000002" stroke-linecap="butt"/>
<circle cx="1222.4" cy="1575.3" r="8.4" fill="none" stroke="#333" stroke-width="1.8"/>
<line x1="1216.69" y1="1575.3" x2="1228.11" y2="1575.3" stroke="#3a3a3a" stroke-width="4.2" stroke-linecap="butt"/>
<line x1="1222.4" y1="1569.59" x2="1222.4" y2="1581.01" stroke="#3a3a3a" stroke-width="4.2" stroke-linecap="butt"/>
<line x1="1217.79" y1="1575.3" x2="1227.01" y2="1575.3" stroke="#aaa" stroke-width="1.6800000000000002" stroke-linecap="butt"/>
<line x1="1222.4" y1="1570.69" x2="1222.4" y2="1579.91" stroke="#aaa" stroke-width="1.6800000000000002" stroke-linecap="butt"/>
<polyline points="1029,1561.6 1029,1541.8 1042.2,1541.8" fill="none" stroke="#333" stroke-width="1.8" stroke-linejoin="miter"/>
<polyline points="1106.6,1541.8 1119.3,1541.8 1119.3,1563.7" fill="none" stroke="#333" stroke-width="1.8" stroke-linejoin="miter"/>
<polyline points="1131.6,1561.6 1131.6,1541.8 1144.5,1541.8" fill="none" stroke="#333" stroke-width="1.8" stroke-linejoin="miter"/>
<polyline points="1208.9,1541.8 1221.1,1541.8 1221.1,1563.7" fill="none" stroke="#333" stroke-width="1.8" stroke-linejoin="miter"/>
<circle cx="1047.4" cy="1542.4" r="2.3" fill="#333"/>
<circle cx="1100.8" cy="1542.4" r="2.3" fill="#333"/>
<circle cx="1150" cy="1542.4" r="2.3" fill="#333"/>
<circle cx="1203.5" cy="1542.4" r="2.3" fill="#333"/>
<text x="1073.7" y="1544.3" font-size="5.6" text-anchor="middle" font-weight="bold" fill="#333" textLength="23" lengthAdjust="spacingAndGlyphs">POWER</text>
<text x="1175" y="1544.3" font-size="5.6" text-anchor="middle" font-weight="bold" fill="#333" textLength="13" lengthAdjust="spacingAndGlyphs">FAN</text>
<text x="1036.9" y="1554.2" font-size="5.6" text-anchor="start" font-weight="bold" fill="#333" textLength="6" lengthAdjust="spacingAndGlyphs">IN</text>
<text x="1036.9" y="1564.3" font-size="5.6" text-anchor="start" font-weight="bold" fill="#333" textLength="27.5" lengthAdjust="spacingAndGlyphs">SERVICE</text>
<text x="1139.5" y="1554.2" font-size="5.6" text-anchor="start" font-weight="bold" fill="#333" textLength="6" lengthAdjust="spacingAndGlyphs">IN</text>
<text x="1139.5" y="1564.3" font-size="5.6" text-anchor="start" font-weight="bold" fill="#333" textLength="27.5" lengthAdjust="spacingAndGlyphs">SERVICE</text>
<text x="1115.3" y="1554.2" font-size="5.6" text-anchor="end" font-weight="bold" fill="#333" textLength="25" lengthAdjust="spacingAndGlyphs">OUT OF</text>
<text x="1115.3" y="1564.3" font-size="5.6" text-anchor="end" font-weight="bold" fill="#333" textLength="27.5" lengthAdjust="spacingAndGlyphs">SERVICE</text>
<text x="1217.3" y="1554.2" font-size="5.6" text-anchor="end" font-weight="bold" fill="#333" textLength="25" lengthAdjust="spacingAndGlyphs">OUT OF</text>
<text x="1217.3" y="1564.3" font-size="5.6" text-anchor="end" font-weight="bold" fill="#333" textLength="27.5" lengthAdjust="spacingAndGlyphs">SERVICE</text>
<text x="1259.3" y="1549.3" font-size="12.8" text-anchor="middle" font-weight="bold" fill="#333" >AC</text>
<path d="M1248,1556.5 Q1253,1551.5 1259,1555 Q1265,1558.5 1270,1554.5" fill="none" stroke="#333" stroke-width="1.6" stroke-linejoin="miter" stroke-linecap="butt"/>
<rect x="331.6" y="1411" width="4" height="29.5" rx="1.5" fill="#fff" stroke="#333" stroke-width="1.7"/>
<rect x="647.4" y="1411" width="3.5" height="29.5" rx="1.5" fill="#fff" stroke="#333" stroke-width="1.7"/>
<rect x="653" y="1411" width="3.1" height="29.5" rx="1.5" fill="#ddd" stroke="#333" stroke-width="1.7"/>
<rect x="966.8" y="1411" width="3.7" height="29.5" rx="1.5" fill="#fff" stroke="#333" stroke-width="1.7"/>
<rect x="972.4" y="1411" width="3.7" height="29.5" rx="1.5" fill="#999" stroke="#333" stroke-width="1.7"/>
<rect x="1277" y="1411" width="4" height="29.5" rx="1.5" fill="#fff" stroke="#333" stroke-width="1.7"/>
<line x1="1279.7" y1="1440.5" x2="1279.7" y2="1585" stroke="#333" stroke-width="2.0" stroke-linecap="butt"/>
<line x1="1280.8" y1="1216" x2="1280.8" y2="1592" stroke="#333" stroke-width="2.2" stroke-linecap="butt"/>
<rect x="1291.4" y="1273.5" width="55.6" height="291.5" rx="0" fill="none" stroke="#333" stroke-width="2.0"/>
<line x1="1280.8" y1="1565" x2="1291.4" y2="1565" stroke="#333" stroke-width="1.8" stroke-linecap="butt"/>
<polygon points="1331.3,1238.9 1325.35,1249.21 1313.45,1249.21 1307.5,1238.9 1313.45,1228.59 1325.35,1228.59" fill="none" stroke="#333" stroke-width="1.9" stroke-linejoin="miter"/>
<circle cx="1319.4" cy="1238.9" r="4.5" fill="none" stroke="#333" stroke-width="1.8"/>
<text x="643" y="393.8" font-size="18.5" text-anchor="start" font-weight="bold" fill="#fff" textLength="50.5" lengthAdjust="spacingAndGlyphs" stroke="#fff" stroke-width="0.35">meeting</text>
<rect x="695.4" y="362.4" width="11.1" height="41.4" rx="0" fill="#fff"/>
<polygon points="706.2,366.9 729.3,362.4 729.3,400.2 706.2,409.2" fill="#fff"/>
<line x1="706.4" y1="367" x2="706.4" y2="409" stroke="#333" stroke-width="1.1" stroke-linecap="butt"/>
<text x="695.6" y="393.8" font-size="18.5" text-anchor="start" font-weight="bold" fill="#333" textLength="33.5" lengthAdjust="spacingAndGlyphs">place</text>
<polygon points="772,360.6 797.2,371 797.2,396.6 772,406.5 746.8,398 746.8,371" fill="#fff"/>
<polyline points="746.8,371 772,377.2 797.2,371" fill="none" stroke="#333" stroke-width="1.7" stroke-linejoin="miter"/>
<line x1="772" y1="377.2" x2="772" y2="406.5" stroke="#333" stroke-width="1.7" stroke-linecap="butt"/>
<polygon points="753.5,379.5 756.6,380.3 756.6,400 753.5,399.2" fill="#333"/>
<polygon points="761.2,381.3 764.2,382.1 764.2,402 761.2,401.2" fill="#333"/>
<polygon points="773.5,385.5 789.5,380.8 789.5,383.6 773.5,388.3" fill="#333"/>
<polygon points="773.5,395.2 789.5,390.5 789.5,393.3 773.5,398" fill="#333"/>
</svg>
</body></html>
